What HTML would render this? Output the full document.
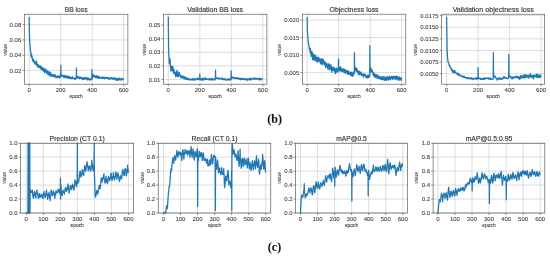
<!DOCTYPE html>
<html><head><meta charset="utf-8"><style>
html,body{margin:0;padding:0;background:#fff;width:550px;height:257px;overflow:hidden}
svg{display:block;will-change:transform;font-family:"Liberation Sans", sans-serif}
text{stroke:#3a3a3a;stroke-width:0.08px}
.ti{stroke:#333;stroke-width:0.14px;fill:#333}
</style></head><body>
<svg width="550" height="257" viewBox="0 0 550 257">
<rect width="550" height="257" fill="#fff"/>
<line x1="29.20" y1="14.2" x2="29.20" y2="84.2" stroke="#bbb" stroke-width="0.5"/>
<line x1="60.70" y1="14.2" x2="60.70" y2="84.2" stroke="#bbb" stroke-width="0.5"/>
<line x1="92.20" y1="14.2" x2="92.20" y2="84.2" stroke="#bbb" stroke-width="0.5"/>
<line x1="123.70" y1="14.2" x2="123.70" y2="84.2" stroke="#bbb" stroke-width="0.5"/>
<line x1="24.3" y1="70.40" x2="127.9" y2="70.40" stroke="#bbb" stroke-width="0.5"/>
<line x1="24.3" y1="55.17" x2="127.9" y2="55.17" stroke="#bbb" stroke-width="0.5"/>
<line x1="24.3" y1="39.93" x2="127.9" y2="39.93" stroke="#bbb" stroke-width="0.5"/>
<line x1="24.3" y1="24.70" x2="127.9" y2="24.70" stroke="#bbb" stroke-width="0.5"/>
<polyline points="29.20,17.10 29.36,31.67 29.52,35.96 29.67,40.08 29.83,43.05 29.99,45.78 30.14,47.08 30.30,48.59 30.46,51.25 30.62,50.98 30.77,52.52 30.93,54.88 31.09,56.59 31.25,56.62 31.41,56.10 31.56,53.95 31.72,57.41 31.88,57.72 32.03,56.51 32.19,58.44 32.35,57.65 32.51,60.57 32.66,60.45 32.82,60.95 32.98,60.98 33.14,59.12 33.30,61.49 33.45,60.01 33.61,60.08 33.77,61.47 33.92,62.33 34.08,61.49 34.24,62.58 34.40,62.50 34.55,61.13 34.71,62.44 34.87,61.90 35.03,63.67 35.19,62.49 35.34,64.72 35.50,63.75 35.66,63.77 35.81,63.73 35.97,62.71 36.13,61.31 36.29,63.41 36.45,61.15 36.60,62.84 36.76,64.50 36.92,63.53 37.08,64.85 37.23,66.83 37.39,66.49 37.55,65.68 37.70,66.32 37.86,65.52 38.02,64.30 38.18,65.91 38.34,65.23 38.49,67.06 38.65,66.17 38.81,65.25 38.97,67.67 39.12,66.91 39.28,66.99 39.44,66.23 39.59,67.35 39.75,66.53 39.91,67.28 40.07,65.87 40.23,67.93 40.38,68.70 40.54,68.20 40.70,68.41 40.85,67.22 41.01,68.43 41.17,66.23 41.33,69.34 41.48,68.07 41.64,67.57 41.80,69.86 41.96,69.13 42.12,68.89 42.27,70.18 42.43,67.58 42.59,69.06 42.74,68.66 42.90,69.35 43.06,69.55 43.22,68.60 43.38,70.18 43.53,71.25 43.69,68.78 43.85,68.12 44.00,68.19 44.16,69.40 44.32,71.65 44.48,69.00 44.63,72.68 44.79,71.62 44.95,70.69 45.11,71.27 45.27,70.15 45.42,71.42 45.58,70.43 45.74,69.19 45.89,69.62 46.05,72.15 46.21,72.34 46.37,71.80 46.52,72.22 46.68,73.10 46.84,73.66 47.00,70.67 47.16,70.75 47.31,71.23 47.47,72.31 47.63,71.57 47.78,72.14 47.94,73.26 48.10,74.37 48.26,75.01 48.41,74.18 48.57,72.00 48.73,71.60 48.89,72.37 49.05,73.98 49.20,74.45 49.36,73.19 49.52,75.06 49.67,75.53 49.83,73.75 49.99,74.45 50.15,73.10 50.30,72.25 50.46,73.18 50.62,72.37 50.78,74.53 50.94,75.47 51.09,76.29 51.25,75.54 51.41,74.41 51.56,76.30 51.72,75.98 51.88,76.00 52.04,74.78 52.20,75.27 52.35,74.75 52.51,74.54 52.67,75.09 52.83,76.45 52.98,75.27 53.14,76.03 53.30,75.39 53.45,75.09 53.61,76.22 53.77,74.50 53.93,75.55 54.09,75.01 54.24,77.16 54.40,76.33 54.56,75.80 54.72,75.26 54.87,76.12 55.03,75.51 55.19,74.73 55.34,74.79 55.50,75.88 55.66,76.58 55.82,76.70 55.97,77.81 56.13,77.70 56.29,77.62 56.45,77.19 56.61,76.36 56.76,76.34 56.92,76.27 57.08,76.49 57.23,75.93 57.39,77.73 57.55,76.77 57.71,76.14 57.86,76.85 58.02,77.18 58.18,76.42 58.34,76.10 58.50,76.93 58.65,76.19 58.81,76.14 58.97,77.50 59.12,77.61 59.28,78.12 59.44,77.14 59.60,77.71 59.75,76.16 59.91,76.07 60.07,77.33 60.23,76.84 60.38,76.75 60.54,76.93 60.70,77.07 60.86,65.20 61.02,76.25 61.17,76.26 61.33,75.15 61.49,74.75 61.64,75.70 61.80,74.88 61.96,75.81 62.12,75.92 62.28,76.28 62.43,75.43 62.59,76.11 62.75,76.00 62.91,75.99 63.06,76.13 63.22,75.32 63.38,76.16 63.53,76.06 63.69,75.93 63.85,77.45 64.01,77.04 64.17,77.24 64.32,76.87 64.48,76.89 64.64,75.31 64.80,75.46 64.95,76.13 65.11,76.85 65.27,77.69 65.42,77.57 65.58,77.51 65.74,77.76 65.90,76.31 66.05,77.21 66.21,75.88 66.37,76.39 66.53,77.40 66.69,77.48 66.84,77.13 67.00,77.08 67.16,77.90 67.31,76.76 67.47,76.18 67.63,76.44 67.79,75.89 67.94,77.60 68.10,76.65 68.26,78.47 68.42,77.39 68.58,77.85 68.73,78.12 68.89,77.40 69.05,77.30 69.20,76.58 69.36,76.86 69.52,76.44 69.68,77.02 69.83,78.47 69.99,77.56 70.15,77.75 70.31,78.35 70.47,78.58 70.62,77.40 70.78,77.42 70.94,77.89 71.09,78.23 71.25,78.11 71.41,77.53 71.57,77.74 71.72,78.96 71.88,78.62 72.04,78.71 72.20,78.26 72.36,77.37 72.51,76.61 72.67,78.21 72.83,78.12 72.98,78.16 73.14,78.60 73.30,78.33 73.46,78.11 73.61,78.37 73.77,78.06 73.93,78.32 74.09,78.57 74.25,78.71 74.40,78.19 74.56,78.45 74.72,79.73 74.88,79.07 75.03,79.55 75.19,78.07 75.35,78.46 75.50,78.34 75.66,78.61 75.82,78.85 75.98,77.70 76.14,78.63 76.29,78.65 76.45,68.00 76.61,78.57 76.77,77.73 76.92,78.09 77.08,76.39 77.24,76.63 77.39,76.39 77.55,77.15 77.71,77.30 77.87,77.34 78.03,77.22 78.18,77.48 78.34,77.20 78.50,78.05 78.66,77.25 78.81,77.22 78.97,76.97 79.13,77.09 79.28,78.44 79.44,77.45 79.60,78.54 79.76,77.94 79.92,78.49 80.07,76.95 80.23,78.18 80.39,77.76 80.55,77.64 80.70,78.11 80.86,78.36 81.02,78.11 81.17,78.66 81.33,77.89 81.49,77.45 81.65,78.51 81.80,78.09 81.96,78.76 82.12,77.80 82.28,78.89 82.44,79.30 82.59,79.27 82.75,79.51 82.91,77.99 83.06,77.87 83.22,77.85 83.38,77.95 83.54,77.40 83.69,77.67 83.85,77.66 84.01,79.44 84.17,78.67 84.33,79.34 84.48,78.85 84.64,79.16 84.80,79.08 84.95,78.16 85.11,78.23 85.27,77.62 85.43,78.08 85.58,78.10 85.74,78.39 85.90,78.55 86.06,78.87 86.22,78.35 86.37,78.23 86.53,78.98 86.69,77.47 86.84,77.70 87.00,78.02 87.16,79.64 87.32,79.48 87.47,79.87 87.63,79.96 87.79,78.38 87.95,79.27 88.11,77.81 88.26,77.97 88.42,78.61 88.58,79.18 88.73,78.61 88.89,79.37 89.05,79.00 89.21,79.16 89.36,80.07 89.52,79.69 89.68,78.89 89.84,78.97 90.00,79.35 90.15,78.56 90.31,79.83 90.47,79.11 90.62,78.80 90.78,79.34 90.94,79.35 91.10,79.43 91.25,79.30 91.41,78.15 91.57,79.31 91.73,79.83 91.89,69.60 92.04,78.99 92.20,77.74 92.36,77.37 92.52,75.38 92.67,75.78 92.83,74.29 92.99,74.93 93.14,74.42 93.30,75.35 93.46,76.14 93.62,76.34 93.78,76.60 93.93,77.13 94.09,75.59 94.25,75.55 94.41,76.24 94.56,76.85 94.72,76.68 94.88,76.30 95.03,76.22 95.19,77.04 95.35,77.34 95.51,77.06 95.67,77.04 95.82,76.20 95.98,76.94 96.14,75.69 96.30,75.64 96.45,76.30 96.61,77.53 96.77,76.49 96.92,76.94 97.08,77.87 97.24,76.76 97.40,77.42 97.56,75.95 97.71,77.19 97.87,76.34 98.03,76.47 98.19,77.62 98.34,78.25 98.50,78.42 98.66,77.92 98.81,78.02 98.97,77.97 99.13,77.09 99.29,76.26 99.45,77.81 99.60,77.46 99.76,77.69 99.92,78.37 100.08,77.97 100.23,77.58 100.39,77.61 100.55,77.79 100.70,77.67 100.86,77.65 101.02,77.68 101.18,78.15 101.34,77.91 101.49,78.34 101.65,78.36 101.81,77.38 101.97,77.20 102.12,78.20 102.28,77.14 102.44,77.95 102.59,77.68 102.75,77.19 102.91,78.35 103.07,78.41 103.23,78.07 103.38,78.16 103.54,78.03 103.70,77.88 103.86,78.26 104.01,77.17 104.17,77.78 104.33,78.21 104.48,78.92 104.64,77.73 104.80,77.83 104.96,77.89 105.12,77.81 105.27,77.59 105.43,77.32 105.59,77.41 105.75,77.52 105.90,78.02 106.06,78.38 106.22,78.00 106.38,77.77 106.53,77.60 106.69,77.82 106.85,77.61 107.01,78.06 107.16,78.63 107.32,78.52 107.48,77.83 107.64,77.70 107.79,77.89 107.95,78.62 108.11,78.38 108.27,78.76 108.42,77.67 108.58,77.81 108.74,78.37 108.90,78.30 109.05,78.33 109.21,79.07 109.37,77.92 109.53,78.17 109.68,78.70 109.84,78.63 110.00,79.23 110.16,79.16 110.31,78.47 110.47,78.83 110.63,78.82 110.78,78.01 110.94,78.85 111.10,78.47 111.26,78.39 111.42,77.91 111.57,77.52 111.73,78.70 111.89,78.33 112.05,78.60 112.20,78.07 112.36,78.49 112.52,78.31 112.67,79.20 112.83,79.40 112.99,79.13 113.15,79.20 113.31,77.97 113.46,78.49 113.62,77.76 113.78,78.59 113.94,78.09 114.09,78.95 114.25,79.13 114.41,78.66 114.56,78.49 114.72,78.90 114.88,78.37 115.04,78.09 115.20,77.91 115.35,78.47 115.51,79.65 115.67,80.14 115.83,79.48 115.98,80.07 116.14,79.88 116.30,78.66 116.45,78.55 116.61,79.02 116.77,78.68 116.93,79.97 117.09,79.32 117.24,80.16 117.40,80.40 117.56,79.41 117.72,80.21 117.87,79.15 118.03,78.59 118.19,78.28 118.34,79.01 118.50,79.39 118.66,78.92 118.82,79.90 118.98,79.11 119.13,79.81 119.29,78.35 119.45,78.51 119.61,78.16 119.76,78.41 119.92,78.54 120.08,78.89 120.23,79.88 120.39,79.74 120.55,80.06 120.71,79.37 120.87,79.66 121.02,78.83 121.18,78.85 121.34,78.75 121.50,78.62 121.65,78.68 121.81,78.74 121.97,80.03 122.12,80.10 122.28,79.96 122.44,78.88 122.60,79.02 122.76,79.52 122.91,78.35 123.07,79.34 123.23,79.04 123.39,78.67 123.54,79.03" fill="none" stroke="#1f77b4" stroke-width="1.25" stroke-linejoin="round"/>
<rect x="24.3" y="14.2" width="103.60" height="70.00" fill="none" stroke="#444" stroke-width="0.6"/>
<line x1="29.20" y1="84.2" x2="29.20" y2="86.20" stroke="#444" stroke-width="0.6"/>
<text x="29.20" y="91.90" font-size="5.88" text-anchor="middle" fill="#3a3a3a" textLength="3.34" lengthAdjust="spacingAndGlyphs" >0</text>
<line x1="60.70" y1="84.2" x2="60.70" y2="86.20" stroke="#444" stroke-width="0.6"/>
<text x="60.70" y="91.90" font-size="5.88" text-anchor="middle" fill="#3a3a3a" textLength="10.02" lengthAdjust="spacingAndGlyphs" >200</text>
<line x1="92.20" y1="84.2" x2="92.20" y2="86.20" stroke="#444" stroke-width="0.6"/>
<text x="92.20" y="91.90" font-size="5.88" text-anchor="middle" fill="#3a3a3a" textLength="10.02" lengthAdjust="spacingAndGlyphs" >400</text>
<line x1="123.70" y1="84.2" x2="123.70" y2="86.20" stroke="#444" stroke-width="0.6"/>
<text x="123.70" y="91.90" font-size="5.88" text-anchor="middle" fill="#3a3a3a" textLength="10.02" lengthAdjust="spacingAndGlyphs" >600</text>
<line x1="22.30" y1="70.40" x2="24.3" y2="70.40" stroke="#444" stroke-width="0.6"/>
<text x="21.30" y="72.65" font-size="5.88" text-anchor="end" fill="#3a3a3a" textLength="11.69" lengthAdjust="spacingAndGlyphs" >0.02</text>
<line x1="22.30" y1="55.17" x2="24.3" y2="55.17" stroke="#444" stroke-width="0.6"/>
<text x="21.30" y="57.42" font-size="5.88" text-anchor="end" fill="#3a3a3a" textLength="11.69" lengthAdjust="spacingAndGlyphs" >0.04</text>
<line x1="22.30" y1="39.93" x2="24.3" y2="39.93" stroke="#444" stroke-width="0.6"/>
<text x="21.30" y="42.18" font-size="5.88" text-anchor="end" fill="#3a3a3a" textLength="11.69" lengthAdjust="spacingAndGlyphs" >0.06</text>
<line x1="22.30" y1="24.70" x2="24.3" y2="24.70" stroke="#444" stroke-width="0.6"/>
<text x="21.30" y="26.95" font-size="5.88" text-anchor="end" fill="#3a3a3a" textLength="11.69" lengthAdjust="spacingAndGlyphs" >0.08</text>
<text x="76.10" y="11.90" font-size="7.24" text-anchor="middle" fill="#3a3a3a" textLength="22.82" lengthAdjust="spacingAndGlyphs" class="ti">BB loss</text>
<text x="76.10" y="98.10" font-size="5.13" text-anchor="middle" fill="#3a3a3a" textLength="13.25" lengthAdjust="spacingAndGlyphs" >epoch</text>
<text x="0" y="0" font-size="5.13" text-anchor="middle" fill="#444" textLength="11.88" lengthAdjust="spacingAndGlyphs" transform="translate(6.90,49.80) rotate(-90)">value</text>
<line x1="168.30" y1="14.2" x2="168.30" y2="84.2" stroke="#bbb" stroke-width="0.5"/>
<line x1="199.80" y1="14.2" x2="199.80" y2="84.2" stroke="#bbb" stroke-width="0.5"/>
<line x1="231.30" y1="14.2" x2="231.30" y2="84.2" stroke="#bbb" stroke-width="0.5"/>
<line x1="262.80" y1="14.2" x2="262.80" y2="84.2" stroke="#bbb" stroke-width="0.5"/>
<line x1="163.4" y1="79.40" x2="266.9" y2="79.40" stroke="#bbb" stroke-width="0.5"/>
<line x1="163.4" y1="65.80" x2="266.9" y2="65.80" stroke="#bbb" stroke-width="0.5"/>
<line x1="163.4" y1="52.20" x2="266.9" y2="52.20" stroke="#bbb" stroke-width="0.5"/>
<line x1="163.4" y1="38.60" x2="266.9" y2="38.60" stroke="#bbb" stroke-width="0.5"/>
<line x1="163.4" y1="25.00" x2="266.9" y2="25.00" stroke="#bbb" stroke-width="0.5"/>
<polyline points="168.30,16.80 168.46,34.23 168.62,50.38 168.77,54.31 168.93,56.12 169.09,58.55 169.25,63.49 169.40,60.86 169.56,63.88 169.72,61.33 169.88,58.77 170.03,58.90 170.19,61.21 170.35,64.90 170.51,67.20 170.66,67.09 170.82,70.81 170.98,70.12 171.14,69.43 171.29,67.54 171.45,66.14 171.61,67.96 171.77,69.09 171.92,68.66 172.08,70.97 172.24,69.14 172.40,66.51 172.55,66.35 172.71,69.20 172.87,67.15 173.03,67.19 173.18,69.92 173.34,73.04 173.50,71.05 173.66,71.01 173.81,69.91 173.97,69.64 174.13,71.79 174.29,72.25 174.44,72.31 174.60,74.00 174.76,73.89 174.92,72.47 175.07,72.65 175.23,72.39 175.39,72.92 175.55,75.80 175.70,75.96 175.86,76.85 176.02,75.11 176.18,74.47 176.33,75.79 176.49,72.65 176.65,74.51 176.81,74.45 176.96,70.10 177.12,76.35 177.28,74.12 177.44,73.37 177.59,72.57 177.75,71.50 177.91,72.50 178.06,73.38 178.22,75.14 178.38,76.68 178.54,75.36 178.70,73.81 178.85,74.01 179.01,73.17 179.17,74.09 179.33,72.60 179.48,74.89 179.64,75.64 179.80,74.84 179.96,75.02 180.11,74.64 180.27,75.83 180.43,75.68 180.59,75.79 180.74,77.95 180.90,76.62 181.06,77.60 181.22,77.32 181.37,76.70 181.53,75.89 181.69,76.37 181.84,76.65 182.00,77.64 182.16,76.38 182.32,77.09 182.48,77.21 182.63,76.64 182.79,75.84 182.95,76.93 183.11,77.01 183.26,78.03 183.42,78.58 183.58,77.68 183.74,76.54 183.89,77.00 184.05,76.44 184.21,77.41 184.37,78.12 184.52,77.91 184.68,78.84 184.84,78.44 185.00,77.97 185.15,77.25 185.31,77.45 185.47,77.32 185.62,78.55 185.78,78.62 185.94,79.41 186.10,78.69 186.26,77.61 186.41,78.10 186.57,77.84 186.73,78.58 186.89,78.25 187.04,78.75 187.20,79.54 187.36,78.99 187.52,78.69 187.67,78.53 187.83,79.38 187.99,78.70 188.15,78.84 188.30,79.25 188.46,79.62 188.62,79.70 188.78,79.32 188.93,79.01 189.09,78.54 189.25,78.85 189.41,78.92 189.56,78.97 189.72,80.14 189.88,79.43 190.04,79.72 190.19,79.31 190.35,79.28 190.51,79.41 190.67,79.24 190.82,79.70 190.98,79.92 191.14,79.89 191.30,79.65 191.45,79.64 191.61,79.31 191.77,79.36 191.93,79.00 192.08,79.48 192.24,80.13 192.40,79.49 192.56,79.38 192.71,78.84 192.87,78.44 193.03,79.43 193.19,79.32 193.34,79.91 193.50,79.98 193.66,79.59 193.81,78.93 193.97,79.33 194.13,78.73 194.29,78.78 194.45,79.86 194.60,79.95 194.76,80.14 194.92,79.79 195.08,79.57 195.23,79.48 195.39,79.21 195.55,79.31 195.71,79.60 195.86,78.93 196.02,79.89 196.18,79.29 196.34,79.45 196.49,79.31 196.65,78.58 196.81,79.15 196.97,79.30 197.12,79.08 197.28,79.28 197.44,79.13 197.60,78.23 197.75,78.36 197.91,78.21 198.07,78.38 198.23,78.43 198.38,79.06 198.54,79.87 198.70,79.67 198.86,79.16 199.01,78.84 199.17,78.89 199.33,79.08 199.49,79.08 199.64,79.34 199.80,74.20 199.96,79.66 200.12,78.66 200.27,79.35 200.43,78.98 200.59,79.45 200.75,79.37 200.90,79.70 201.06,80.22 201.22,78.83 201.38,79.73 201.53,79.14 201.69,78.39 201.85,78.44 202.00,79.44 202.16,79.36 202.32,80.12 202.48,79.53 202.64,79.06 202.79,78.95 202.95,78.35 203.11,78.85 203.27,79.23 203.42,79.46 203.58,79.93 203.74,79.61 203.90,78.74 204.05,78.69 204.21,78.41 204.37,78.65 204.53,78.66 204.68,79.22 204.84,79.76 205.00,79.27 205.16,79.16 205.31,78.18 205.47,77.77 205.63,78.06 205.79,78.46 205.94,78.73 206.10,78.76 206.26,79.24 206.42,79.32 206.57,79.28 206.73,78.65 206.89,79.02 207.05,79.67 207.20,79.31 207.36,79.57 207.52,79.22 207.68,79.28 207.83,79.05 207.99,79.17 208.15,79.06 208.31,79.39 208.46,79.33 208.62,79.87 208.78,79.47 208.94,79.24 209.09,78.66 209.25,78.97 209.41,78.61 209.56,79.16 209.72,78.99 209.88,79.60 210.04,79.78 210.20,79.01 210.35,79.16 210.51,78.90 210.67,79.28 210.83,79.62 210.98,79.65 211.14,80.06 211.30,79.52 211.46,79.02 211.61,78.48 211.77,78.59 211.93,78.48 212.09,79.15 212.24,79.44 212.40,79.37 212.56,79.78 212.72,79.19 212.87,79.45 213.03,79.55 213.19,79.10 213.35,79.14 213.50,79.22 213.66,80.12 213.82,79.31 213.98,78.94 214.13,79.32 214.29,78.93 214.45,79.24 214.61,79.28 214.76,79.24 214.92,79.89 215.08,79.59 215.24,79.16 215.39,78.79 215.55,70.20 215.71,78.64 215.87,78.50 216.02,78.37 216.18,78.29 216.34,77.88 216.50,78.04 216.65,77.85 216.81,77.76 216.97,77.84 217.12,78.16 217.28,78.61 217.44,78.64 217.60,78.48 217.75,78.64 217.91,77.97 218.07,78.07 218.23,78.47 218.39,78.53 218.54,78.76 218.70,78.57 218.86,78.62 219.02,78.39 219.17,78.41 219.33,78.17 219.49,78.31 219.65,79.02 219.80,78.91 219.96,78.94 220.12,78.67 220.28,78.62 220.43,78.29 220.59,78.65 220.75,78.65 220.91,78.70 221.06,78.88 221.22,79.04 221.38,78.92 221.54,78.99 221.69,78.54 221.85,77.99 222.01,78.41 222.17,78.27 222.32,79.30 222.48,79.42 222.64,79.64 222.80,79.08 222.95,78.83 223.11,78.83 223.27,78.82 223.43,79.52 223.58,79.45 223.74,79.68 223.90,79.39 224.06,78.94 224.21,78.87 224.37,78.52 224.53,79.30 224.69,79.26 224.84,79.73 225.00,79.91 225.16,79.71 225.31,79.50 225.47,79.68 225.63,79.16 225.79,79.54 225.95,79.39 226.10,79.53 226.26,79.30 226.42,79.89 226.58,80.10 226.73,79.43 226.89,79.73 227.05,79.75 227.21,79.54 227.36,80.07 227.52,79.83 227.68,79.66 227.84,79.72 227.99,79.14 228.15,78.49 228.31,79.47 228.47,79.17 228.62,79.73 228.78,80.01 228.94,79.87 229.10,79.50 229.25,79.12 229.41,79.80 229.57,79.25 229.73,79.41 229.88,79.17 230.04,79.96 230.20,80.07 230.36,79.91 230.51,80.06 230.67,79.56 230.83,79.55 230.99,79.42 231.14,70.90 231.30,79.34 231.46,78.64 231.62,77.64 231.77,77.55 231.93,77.66 232.09,77.34 232.25,77.64 232.40,77.12 232.56,78.24 232.72,77.86 232.88,77.99 233.03,77.56 233.19,77.15 233.35,77.23 233.50,77.90 233.66,77.98 233.82,77.94 233.98,78.08 234.13,77.85 234.29,78.10 234.45,77.73 234.61,77.64 234.77,78.03 234.92,78.02 235.08,78.64 235.24,78.00 235.40,77.63 235.55,77.79 235.71,77.58 235.87,77.92 236.03,78.12 236.18,78.01 236.34,78.46 236.50,78.38 236.66,78.04 236.81,78.13 236.97,78.26 237.13,77.99 237.29,78.29 237.44,78.61 237.60,78.88 237.76,78.69 237.92,77.89 238.07,77.96 238.23,77.70 238.39,78.29 238.55,78.15 238.70,78.38 238.86,78.58 239.02,78.96 239.18,79.01 239.33,78.37 239.49,78.52 239.65,78.94 239.81,79.28 239.96,79.26 240.12,79.84 240.28,79.30 240.44,78.71 240.59,78.64 240.75,78.29 240.91,78.27 241.06,78.93 241.22,79.63 241.38,79.07 241.54,79.35 241.69,79.14 241.85,78.65 242.01,78.45 242.17,78.55 242.33,79.19 242.48,78.85 242.64,79.29 242.80,78.67 242.96,79.07 243.11,78.91 243.27,78.23 243.43,78.73 243.59,79.37 243.74,79.42 243.90,79.54 244.06,78.99 244.22,79.47 244.37,79.64 244.53,78.81 244.69,79.26 244.85,79.49 245.00,79.59 245.16,79.87 245.32,79.53 245.48,78.95 245.63,79.45 245.79,79.16 245.95,78.83 246.11,79.46 246.26,79.07 246.42,79.48 246.58,79.68 246.74,78.96 246.89,78.78 247.05,79.04 247.21,78.82 247.37,80.11 247.52,80.23 247.68,80.47 247.84,80.13 248.00,79.30 248.15,78.85 248.31,78.86 248.47,79.06 248.62,79.04 248.78,79.17 248.94,79.23 249.10,79.56 249.25,78.69 249.41,78.70 249.57,78.63 249.73,78.63 249.88,78.93 250.04,79.26 250.20,80.01 250.36,79.85 250.52,79.12 250.67,78.26 250.83,78.15 250.99,78.61 251.15,78.91 251.30,79.21 251.46,79.77 251.62,78.88 251.78,78.94 251.93,78.86 252.09,78.71 252.25,78.74 252.41,78.80 252.56,78.90 252.72,78.90 252.88,78.80 253.04,78.44 253.19,78.02 253.35,78.21 253.51,78.48 253.67,78.37 253.82,78.90 253.98,79.32 254.14,78.89 254.30,78.66 254.45,78.56 254.61,77.83 254.77,78.06 254.93,78.72 255.08,78.83 255.24,79.28 255.40,78.68 255.56,78.95 255.71,78.82 255.87,78.92 256.03,78.37 256.19,78.63 256.34,78.94 256.50,79.08 256.66,78.63 256.81,78.61 256.97,78.29 257.13,79.06 257.29,78.66 257.44,78.86 257.60,78.90 257.76,79.25 257.92,79.24 258.08,78.75 258.23,78.63 258.39,78.97 258.55,79.04 258.71,79.25 258.86,79.46 259.02,79.94 259.18,79.32 259.34,79.13 259.49,78.46 259.65,78.01 259.81,78.33 259.97,78.42 260.12,78.98 260.28,79.81 260.44,78.92 260.60,78.56 260.75,79.11 260.91,78.74 261.07,79.47 261.23,79.28 261.38,79.63 261.54,79.42 261.70,78.99 261.86,79.12 262.01,79.11 262.17,78.50 262.33,78.54 262.49,79.01 262.64,79.26" fill="none" stroke="#1f77b4" stroke-width="1.25" stroke-linejoin="round"/>
<rect x="163.4" y="14.2" width="103.50" height="70.00" fill="none" stroke="#444" stroke-width="0.6"/>
<line x1="168.30" y1="84.2" x2="168.30" y2="86.20" stroke="#444" stroke-width="0.6"/>
<text x="168.30" y="91.90" font-size="5.88" text-anchor="middle" fill="#3a3a3a" textLength="3.34" lengthAdjust="spacingAndGlyphs" >0</text>
<line x1="199.80" y1="84.2" x2="199.80" y2="86.20" stroke="#444" stroke-width="0.6"/>
<text x="199.80" y="91.90" font-size="5.88" text-anchor="middle" fill="#3a3a3a" textLength="10.02" lengthAdjust="spacingAndGlyphs" >200</text>
<line x1="231.30" y1="84.2" x2="231.30" y2="86.20" stroke="#444" stroke-width="0.6"/>
<text x="231.30" y="91.90" font-size="5.88" text-anchor="middle" fill="#3a3a3a" textLength="10.02" lengthAdjust="spacingAndGlyphs" >400</text>
<line x1="262.80" y1="84.2" x2="262.80" y2="86.20" stroke="#444" stroke-width="0.6"/>
<text x="262.80" y="91.90" font-size="5.88" text-anchor="middle" fill="#3a3a3a" textLength="10.02" lengthAdjust="spacingAndGlyphs" >600</text>
<line x1="161.40" y1="79.40" x2="163.4" y2="79.40" stroke="#444" stroke-width="0.6"/>
<text x="160.40" y="81.65" font-size="5.88" text-anchor="end" fill="#3a3a3a" textLength="11.69" lengthAdjust="spacingAndGlyphs" >0.01</text>
<line x1="161.40" y1="65.80" x2="163.4" y2="65.80" stroke="#444" stroke-width="0.6"/>
<text x="160.40" y="68.05" font-size="5.88" text-anchor="end" fill="#3a3a3a" textLength="11.69" lengthAdjust="spacingAndGlyphs" >0.02</text>
<line x1="161.40" y1="52.20" x2="163.4" y2="52.20" stroke="#444" stroke-width="0.6"/>
<text x="160.40" y="54.45" font-size="5.88" text-anchor="end" fill="#3a3a3a" textLength="11.69" lengthAdjust="spacingAndGlyphs" >0.03</text>
<line x1="161.40" y1="38.60" x2="163.4" y2="38.60" stroke="#444" stroke-width="0.6"/>
<text x="160.40" y="40.85" font-size="5.88" text-anchor="end" fill="#3a3a3a" textLength="11.69" lengthAdjust="spacingAndGlyphs" >0.04</text>
<line x1="161.40" y1="25.00" x2="163.4" y2="25.00" stroke="#444" stroke-width="0.6"/>
<text x="160.40" y="27.25" font-size="5.88" text-anchor="end" fill="#3a3a3a" textLength="11.69" lengthAdjust="spacingAndGlyphs" >0.05</text>
<text x="215.15" y="11.90" font-size="7.24" text-anchor="middle" fill="#3a3a3a" textLength="55.93" lengthAdjust="spacingAndGlyphs" class="ti">Validation BB loss</text>
<text x="215.15" y="98.10" font-size="5.13" text-anchor="middle" fill="#3a3a3a" textLength="13.25" lengthAdjust="spacingAndGlyphs" >epoch</text>
<text x="0" y="0" font-size="5.13" text-anchor="middle" fill="#444" textLength="11.88" lengthAdjust="spacingAndGlyphs" transform="translate(145.70,49.80) rotate(-90)">value</text>
<line x1="307.20" y1="14.2" x2="307.20" y2="84.2" stroke="#bbb" stroke-width="0.5"/>
<line x1="338.70" y1="14.2" x2="338.70" y2="84.2" stroke="#bbb" stroke-width="0.5"/>
<line x1="370.20" y1="14.2" x2="370.20" y2="84.2" stroke="#bbb" stroke-width="0.5"/>
<line x1="401.70" y1="14.2" x2="401.70" y2="84.2" stroke="#bbb" stroke-width="0.5"/>
<line x1="302.3" y1="72.60" x2="405.8" y2="72.60" stroke="#bbb" stroke-width="0.5"/>
<line x1="302.3" y1="55.10" x2="405.8" y2="55.10" stroke="#bbb" stroke-width="0.5"/>
<line x1="302.3" y1="37.60" x2="405.8" y2="37.60" stroke="#bbb" stroke-width="0.5"/>
<line x1="302.3" y1="20.10" x2="405.8" y2="20.10" stroke="#bbb" stroke-width="0.5"/>
<polyline points="307.20,17.00 307.36,28.73 307.51,33.36 307.67,35.36 307.83,37.37 307.99,39.37 308.14,41.09 308.30,42.10 308.46,42.93 308.62,43.56 308.77,45.12 308.93,45.42 309.09,47.33 309.25,46.95 309.40,49.81 309.56,48.19 309.72,49.32 309.88,49.75 310.03,49.04 310.19,53.28 310.35,48.35 310.51,53.42 310.66,51.28 310.82,50.80 310.98,52.18 311.14,55.64 311.30,56.57 311.45,55.71 311.61,52.61 311.77,53.79 311.93,51.38 312.08,53.91 312.24,53.63 312.40,52.95 312.56,55.22 312.71,59.77 312.87,58.06 313.03,56.37 313.19,55.27 313.34,59.87 313.50,54.78 313.66,54.19 313.81,54.37 313.97,58.52 314.13,59.90 314.29,55.15 314.44,58.69 314.60,59.07 314.76,58.60 314.92,55.32 315.07,59.30 315.23,57.58 315.39,60.44 315.55,60.68 315.70,58.38 315.86,55.63 316.02,57.20 316.18,59.42 316.33,61.22 316.49,58.90 316.65,58.91 316.81,60.23 316.96,61.56 317.12,57.49 317.28,59.72 317.44,59.69 317.59,58.71 317.75,58.27 317.91,61.99 318.07,61.46 318.22,57.80 318.38,57.13 318.54,58.89 318.70,59.69 318.85,57.98 319.01,58.84 319.17,60.68 319.33,60.85 319.49,61.14 319.64,61.48 319.80,58.97 319.96,60.57 320.12,62.16 320.27,61.83 320.43,62.05 320.59,63.23 320.75,63.83 320.90,63.38 321.06,59.55 321.22,58.50 321.38,59.31 321.53,62.61 321.69,60.11 321.85,62.91 322.00,62.35 322.16,64.99 322.32,60.24 322.48,64.03 322.63,59.18 322.79,62.29 322.95,61.38 323.11,59.37 323.26,59.17 323.42,60.62 323.58,61.91 323.74,60.76 323.89,63.12 324.05,61.82 324.21,64.92 324.37,64.89 324.52,63.75 324.68,64.10 324.84,64.28 325.00,63.75 325.15,61.54 325.31,62.20 325.47,62.90 325.63,67.52 325.78,65.11 325.94,66.72 326.10,64.28 326.26,65.85 326.41,65.15 326.57,63.58 326.73,63.45 326.89,63.34 327.04,65.94 327.20,66.53 327.36,67.78 327.52,65.33 327.68,66.92 327.83,68.65 327.99,68.27 328.15,69.47 328.31,64.25 328.46,67.57 328.62,63.91 328.78,65.59 328.94,64.42 329.09,65.23 329.25,67.48 329.41,64.16 329.56,64.41 329.72,69.87 329.88,67.81 330.04,67.14 330.19,65.45 330.35,67.16 330.51,67.83 330.67,68.86 330.82,65.81 330.98,64.90 331.14,68.94 331.30,66.96 331.45,69.78 331.61,70.81 331.77,72.25 331.93,67.55 332.08,67.75 332.24,68.15 332.40,70.23 332.56,67.81 332.71,67.50 332.87,70.32 333.03,66.93 333.19,67.41 333.34,67.86 333.50,70.71 333.66,69.60 333.82,70.14 333.97,70.59 334.13,70.50 334.29,69.46 334.45,67.79 334.61,71.23 334.76,71.84 334.92,70.54 335.08,69.38 335.24,73.60 335.39,69.15 335.55,73.65 335.71,72.06 335.87,69.85 336.02,71.45 336.18,71.03 336.34,67.94 336.50,70.11 336.65,71.88 336.81,71.32 336.97,68.93 337.12,69.52 337.28,72.06 337.44,68.97 337.60,71.94 337.75,70.98 337.91,70.09 338.07,70.06 338.23,70.13 338.38,68.12 338.54,59.00 338.70,69.43 338.86,70.39 339.01,67.98 339.17,71.09 339.33,70.24 339.49,68.00 339.64,70.17 339.80,69.93 339.96,68.23 340.12,67.43 340.27,69.36 340.43,66.61 340.59,70.47 340.75,70.84 340.90,67.87 341.06,71.41 341.22,69.27 341.38,71.15 341.53,71.25 341.69,68.60 341.85,69.12 342.01,71.32 342.16,70.58 342.32,70.56 342.48,69.09 342.64,71.23 342.79,68.93 342.95,70.04 343.11,70.27 343.27,69.39 343.43,70.75 343.58,68.96 343.74,72.33 343.90,70.32 344.06,71.21 344.21,70.65 344.37,69.48 344.53,71.04 344.69,69.73 344.84,71.15 345.00,72.74 345.16,70.88 345.31,73.44 345.47,72.22 345.63,69.79 345.79,71.11 345.94,72.67 346.10,70.55 346.26,70.30 346.42,71.15 346.57,72.18 346.73,72.11 346.89,71.81 347.05,72.52 347.20,72.47 347.36,73.15 347.52,74.14 347.68,72.68 347.83,70.51 347.99,71.01 348.15,71.80 348.31,74.40 348.46,71.39 348.62,73.79 348.78,73.12 348.94,72.49 349.09,73.92 349.25,74.30 349.41,74.31 349.57,72.19 349.72,72.01 349.88,72.17 350.04,72.45 350.20,72.59 350.36,73.89 350.51,73.29 350.67,74.57 350.83,75.76 350.99,74.99 351.14,72.30 351.30,75.33 351.46,73.17 351.62,72.29 351.77,72.75 351.93,72.27 352.09,73.31 352.25,74.21 352.40,73.08 352.56,76.45 352.72,74.26 352.88,74.45 353.03,73.42 353.19,75.36 353.35,74.96 353.50,73.37 353.66,71.82 353.82,74.45 353.98,73.48 354.13,72.74 354.29,73.07 354.45,52.70 354.61,71.75 354.76,68.52 354.92,70.33 355.08,67.57 355.24,69.14 355.39,67.53 355.55,69.74 355.71,69.93 355.87,67.41 356.02,70.94 356.18,70.60 356.34,70.66 356.50,68.68 356.65,71.11 356.81,71.27 356.97,72.08 357.13,70.36 357.28,69.16 357.44,71.99 357.60,71.03 357.76,71.27 357.91,72.90 358.07,70.98 358.23,71.33 358.39,74.73 358.54,74.31 358.70,74.01 358.86,72.82 359.02,72.44 359.18,71.66 359.33,71.37 359.49,74.39 359.65,72.67 359.81,74.72 359.96,72.46 360.12,73.38 360.28,73.88 360.44,73.52 360.59,72.74 360.75,74.64 360.91,71.91 361.06,73.70 361.22,73.85 361.38,74.02 361.54,73.11 361.69,75.13 361.85,75.70 362.01,75.47 362.17,75.48 362.32,75.31 362.48,74.86 362.64,75.30 362.80,75.00 362.95,74.08 363.11,76.29 363.27,74.65 363.43,73.96 363.58,76.03 363.74,77.05 363.90,74.54 364.06,74.11 364.21,75.03 364.37,74.73 364.53,74.18 364.69,74.49 364.84,74.89 365.00,74.37 365.16,75.69 365.32,75.46 365.47,75.62 365.63,74.80 365.79,77.33 365.95,76.72 366.11,76.37 366.26,75.37 366.42,77.72 366.58,76.64 366.74,76.88 366.89,76.13 367.05,76.58 367.21,77.08 367.37,75.84 367.52,75.99 367.68,78.06 367.84,76.26 368.00,75.05 368.15,76.42 368.31,77.65 368.47,75.86 368.62,76.14 368.78,77.58 368.94,75.12 369.10,75.47 369.25,75.10 369.41,76.54 369.57,75.95 369.73,76.34 369.88,45.50 370.04,71.81 370.20,72.68 370.36,71.39 370.51,70.53 370.67,67.90 370.83,67.93 370.99,68.47 371.14,70.18 371.30,71.30 371.46,69.99 371.62,69.79 371.77,70.24 371.93,70.42 372.09,72.47 372.25,72.16 372.40,70.42 372.56,72.70 372.72,73.31 372.88,73.18 373.03,74.53 373.19,72.64 373.35,75.31 373.51,73.07 373.66,75.91 373.82,74.78 373.98,75.88 374.14,73.41 374.29,73.61 374.45,76.29 374.61,73.98 374.77,75.15 374.92,77.12 375.08,77.72 375.24,75.52 375.40,75.08 375.56,76.91 375.71,75.29 375.87,75.38 376.03,74.35 376.19,75.25 376.34,77.10 376.50,76.49 376.66,74.79 376.81,75.17 376.97,78.29 377.13,77.60 377.29,75.88 377.44,77.34 377.60,77.86 377.76,77.85 377.92,77.12 378.07,75.22 378.23,77.93 378.39,77.50 378.55,78.24 378.70,77.21 378.86,78.80 379.02,78.77 379.18,77.12 379.33,76.50 379.49,78.16 379.65,76.71 379.81,77.20 379.96,76.80 380.12,77.54 380.28,77.56 380.44,78.94 380.59,78.76 380.75,77.38 380.91,79.23 381.07,79.49 381.23,78.34 381.38,76.79 381.54,79.36 381.70,79.02 381.86,76.62 382.01,77.49 382.17,79.30 382.33,78.98 382.49,77.38 382.64,78.19 382.80,77.27 382.96,79.99 383.12,79.37 383.27,77.25 383.43,77.61 383.59,78.51 383.75,77.51 383.90,76.41 384.06,79.20 384.22,79.37 384.38,77.29 384.53,80.57 384.69,79.58 384.85,79.63 385.00,79.64 385.16,80.04 385.32,78.35 385.48,77.17 385.63,77.37 385.79,79.21 385.95,78.57 386.11,78.48 386.26,78.69 386.42,78.68 386.58,80.43 386.74,80.29 386.89,77.97 387.05,76.59 387.21,76.94 387.37,77.05 387.52,77.41 387.68,78.49 387.84,78.62 388.00,78.13 388.15,79.85 388.31,77.17 388.47,78.40 388.63,79.59 388.78,78.95 388.94,78.29 389.10,78.62 389.26,76.05 389.41,78.30 389.57,77.78 389.73,79.09 389.89,76.91 390.04,77.83 390.20,79.97 390.36,77.84 390.52,78.90 390.67,79.50 390.83,77.97 390.99,77.66 391.15,77.46 391.31,76.32 391.46,77.43 391.62,78.34 391.78,77.79 391.94,77.39 392.09,77.85 392.25,77.01 392.41,76.46 392.56,79.42 392.72,77.31 392.88,78.32 393.04,77.94 393.19,76.39 393.35,76.70 393.51,78.08 393.67,77.75 393.82,78.49 393.98,78.42 394.14,78.25 394.30,78.65 394.45,77.88 394.61,76.38 394.77,77.84 394.93,79.13 395.08,78.27 395.24,76.77 395.40,77.73 395.56,76.47 395.71,78.57 395.87,77.67 396.03,78.52 396.19,79.66 396.34,78.23 396.50,78.70 396.66,75.79 396.82,76.68 396.98,77.41 397.13,76.41 397.29,77.97 397.45,77.60 397.61,78.37 397.76,77.39 397.92,79.89 398.08,78.15 398.24,78.23 398.39,77.49 398.55,77.63 398.71,77.11 398.87,79.83 399.02,79.34 399.18,79.28 399.34,77.14 399.50,77.84 399.65,80.25 399.81,80.30 399.97,77.80 400.12,79.16 400.28,79.38 400.44,78.45 400.60,78.11 400.75,77.81 400.91,79.61 401.07,78.53 401.23,80.10 401.38,77.94 401.54,79.89" fill="none" stroke="#1f77b4" stroke-width="1.25" stroke-linejoin="round"/>
<rect x="302.3" y="14.2" width="103.50" height="70.00" fill="none" stroke="#444" stroke-width="0.6"/>
<line x1="307.20" y1="84.2" x2="307.20" y2="86.20" stroke="#444" stroke-width="0.6"/>
<text x="307.20" y="91.90" font-size="5.88" text-anchor="middle" fill="#3a3a3a" textLength="3.34" lengthAdjust="spacingAndGlyphs" >0</text>
<line x1="338.70" y1="84.2" x2="338.70" y2="86.20" stroke="#444" stroke-width="0.6"/>
<text x="338.70" y="91.90" font-size="5.88" text-anchor="middle" fill="#3a3a3a" textLength="10.02" lengthAdjust="spacingAndGlyphs" >200</text>
<line x1="370.20" y1="84.2" x2="370.20" y2="86.20" stroke="#444" stroke-width="0.6"/>
<text x="370.20" y="91.90" font-size="5.88" text-anchor="middle" fill="#3a3a3a" textLength="10.02" lengthAdjust="spacingAndGlyphs" >400</text>
<line x1="401.70" y1="84.2" x2="401.70" y2="86.20" stroke="#444" stroke-width="0.6"/>
<text x="401.70" y="91.90" font-size="5.88" text-anchor="middle" fill="#3a3a3a" textLength="10.02" lengthAdjust="spacingAndGlyphs" >600</text>
<line x1="300.30" y1="72.60" x2="302.3" y2="72.60" stroke="#444" stroke-width="0.6"/>
<text x="299.30" y="74.85" font-size="5.88" text-anchor="end" fill="#3a3a3a" textLength="15.03" lengthAdjust="spacingAndGlyphs" >0.005</text>
<line x1="300.30" y1="55.10" x2="302.3" y2="55.10" stroke="#444" stroke-width="0.6"/>
<text x="299.30" y="57.35" font-size="5.88" text-anchor="end" fill="#3a3a3a" textLength="15.03" lengthAdjust="spacingAndGlyphs" >0.010</text>
<line x1="300.30" y1="37.60" x2="302.3" y2="37.60" stroke="#444" stroke-width="0.6"/>
<text x="299.30" y="39.85" font-size="5.88" text-anchor="end" fill="#3a3a3a" textLength="15.03" lengthAdjust="spacingAndGlyphs" >0.015</text>
<line x1="300.30" y1="20.10" x2="302.3" y2="20.10" stroke="#444" stroke-width="0.6"/>
<text x="299.30" y="22.35" font-size="5.88" text-anchor="end" fill="#3a3a3a" textLength="15.03" lengthAdjust="spacingAndGlyphs" >0.020</text>
<text x="354.05" y="11.90" font-size="7.24" text-anchor="middle" fill="#3a3a3a" textLength="49.12" lengthAdjust="spacingAndGlyphs" class="ti">Objectness loss</text>
<text x="354.05" y="98.10" font-size="5.13" text-anchor="middle" fill="#3a3a3a" textLength="13.25" lengthAdjust="spacingAndGlyphs" >epoch</text>
<text x="0" y="0" font-size="5.13" text-anchor="middle" fill="#444" textLength="11.88" lengthAdjust="spacingAndGlyphs" transform="translate(281.40,49.80) rotate(-90)">value</text>
<line x1="446.60" y1="14.2" x2="446.60" y2="84.2" stroke="#bbb" stroke-width="0.5"/>
<line x1="478.10" y1="14.2" x2="478.10" y2="84.2" stroke="#bbb" stroke-width="0.5"/>
<line x1="509.60" y1="14.2" x2="509.60" y2="84.2" stroke="#bbb" stroke-width="0.5"/>
<line x1="541.10" y1="14.2" x2="541.10" y2="84.2" stroke="#bbb" stroke-width="0.5"/>
<line x1="441.7" y1="73.70" x2="544.7" y2="73.70" stroke="#bbb" stroke-width="0.5"/>
<line x1="441.7" y1="62.08" x2="544.7" y2="62.08" stroke="#bbb" stroke-width="0.5"/>
<line x1="441.7" y1="50.46" x2="544.7" y2="50.46" stroke="#bbb" stroke-width="0.5"/>
<line x1="441.7" y1="38.84" x2="544.7" y2="38.84" stroke="#bbb" stroke-width="0.5"/>
<line x1="441.7" y1="27.22" x2="544.7" y2="27.22" stroke="#bbb" stroke-width="0.5"/>
<line x1="441.7" y1="15.60" x2="544.7" y2="15.60" stroke="#bbb" stroke-width="0.5"/>
<polyline points="446.60,17.10 446.76,28.74 446.92,38.90 447.07,48.35 447.23,52.28 447.39,55.03 447.55,57.40 447.70,58.79 447.86,60.18 448.02,61.57 448.18,62.52 448.33,62.80 448.49,62.50 448.65,63.18 448.81,63.73 448.96,64.72 449.12,65.41 449.28,65.92 449.44,65.29 449.59,66.02 449.75,65.68 449.91,66.80 450.06,66.09 450.22,67.05 450.38,67.20 450.54,67.65 450.70,67.93 450.85,67.65 451.01,67.63 451.17,68.09 451.33,69.21 451.48,70.06 451.64,70.58 451.80,70.20 451.96,69.86 452.11,69.99 452.27,69.61 452.43,70.26 452.59,71.65 452.74,71.89 452.90,72.69 453.06,72.10 453.22,72.13 453.37,71.74 453.53,70.70 453.69,71.15 453.85,71.39 454.00,72.29 454.16,72.60 454.32,71.81 454.48,72.18 454.63,71.18 454.79,70.48 454.95,70.78 455.11,71.84 455.26,72.50 455.42,72.78 455.58,73.03 455.74,73.24 455.89,72.86 456.05,73.09 456.21,73.53 456.37,73.42 456.52,73.35 456.68,73.84 456.84,73.77 457.00,74.10 457.15,73.30 457.31,72.90 457.47,73.84 457.62,74.28 457.78,74.52 457.94,75.21 458.10,74.82 458.25,74.72 458.41,73.85 458.57,73.56 458.73,74.18 458.89,74.49 459.04,75.41 459.20,75.66 459.36,75.31 459.52,75.52 459.67,75.06 459.83,75.00 459.99,75.17 460.15,75.13 460.30,75.35 460.46,75.61 460.62,75.28 460.78,75.44 460.93,75.71 461.09,75.53 461.25,75.47 461.41,76.57 461.56,75.95 461.72,76.63 461.88,76.60 462.04,76.66 462.19,76.05 462.35,76.19 462.51,76.34 462.67,76.87 462.82,76.88 462.98,77.09 463.14,76.85 463.30,76.95 463.45,76.37 463.61,76.16 463.77,76.08 463.93,76.85 464.08,76.74 464.24,77.64 464.40,77.29 464.56,76.90 464.71,76.68 464.87,76.80 465.03,77.12 465.19,77.23 465.34,77.56 465.50,77.84 465.66,77.69 465.81,77.67 465.97,77.69 466.13,77.82 466.29,77.87 466.45,77.78 466.60,78.50 466.76,78.59 466.92,78.11 467.08,78.26 467.23,77.76 467.39,77.57 467.55,77.78 467.71,78.53 467.86,78.38 468.02,78.62 468.18,78.33 468.34,77.98 468.49,77.95 468.65,77.76 468.81,78.25 468.97,77.80 469.12,78.54 469.28,78.54 469.44,77.88 469.60,78.37 469.75,78.40 469.91,78.17 470.07,78.27 470.23,78.53 470.38,78.34 470.54,79.14 470.70,78.81 470.86,78.25 471.01,78.20 471.17,77.71 471.33,78.68 471.49,78.21 471.64,78.60 471.80,78.64 471.96,78.88 472.12,78.83 472.27,78.65 472.43,78.35 472.59,79.04 472.75,79.25 472.90,79.73 473.06,79.67 473.22,78.99 473.38,79.04 473.53,78.54 473.69,78.64 473.85,78.47 474.00,78.70 474.16,78.90 474.32,78.71 474.48,78.76 474.64,78.85 474.79,78.33 474.95,78.24 475.11,78.47 475.27,78.44 475.42,78.69 475.58,79.02 475.74,78.59 475.90,78.45 476.05,78.16 476.21,77.71 476.37,77.94 476.53,78.97 476.68,79.11 476.84,79.05 477.00,79.06 477.16,78.87 477.31,78.60 477.47,78.06 477.63,78.01 477.79,78.21 477.94,78.61 478.10,67.50 478.26,78.87 478.42,78.15 478.57,77.99 478.73,78.20 478.89,78.58 479.05,78.07 479.20,78.56 479.36,78.66 479.52,78.41 479.68,78.26 479.83,78.11 479.99,78.03 480.15,77.97 480.31,78.62 480.46,79.10 480.62,79.39 480.78,79.27 480.94,79.04 481.09,78.89 481.25,79.17 481.41,78.90 481.57,79.20 481.72,79.60 481.88,79.44 482.04,78.84 482.20,78.71 482.35,78.44 482.51,78.20 482.67,78.42 482.83,79.04 482.98,79.27 483.14,79.50 483.30,79.05 483.46,79.13 483.61,78.87 483.77,78.90 483.93,78.44 484.09,78.75 484.24,79.28 484.40,78.90 484.56,78.87 484.72,78.51 484.87,78.12 485.03,77.54 485.19,78.01 485.35,77.90 485.50,78.77 485.66,78.62 485.82,78.56 485.98,78.36 486.13,78.25 486.29,78.07 486.45,78.27 486.61,78.23 486.76,78.45 486.92,78.32 487.08,78.26 487.24,78.24 487.39,78.13 487.55,77.97 487.71,78.28 487.87,78.71 488.02,78.79 488.18,78.73 488.34,78.77 488.50,78.64 488.65,79.05 488.81,77.91 488.97,78.53 489.12,78.35 489.28,79.14 489.44,78.98 489.60,79.01 489.75,78.83 489.91,78.82 490.07,77.84 490.23,78.52 490.39,79.07 490.54,79.00 490.70,79.71 490.86,79.64 491.02,78.82 491.17,78.79 491.33,78.81 491.49,79.23 491.65,79.16 491.80,79.21 491.96,78.95 492.12,79.07 492.28,79.01 492.43,78.74 492.59,78.89 492.75,78.94 492.91,79.10 493.06,79.18 493.22,78.11 493.38,52.60 493.54,76.12 493.69,75.22 493.85,74.86 494.01,75.37 494.17,76.25 494.32,76.23 494.48,76.12 494.64,76.86 494.80,76.25 494.95,76.30 495.11,76.32 495.27,76.30 495.43,77.54 495.58,77.90 495.74,77.93 495.90,78.06 496.06,77.88 496.21,77.78 496.37,77.83 496.53,77.97 496.69,78.64 496.84,79.03 497.00,80.05 497.16,79.10 497.32,79.47 497.47,79.01 497.63,78.54 497.79,78.57 497.95,79.36 498.10,79.49 498.26,79.35 498.42,78.98 498.58,78.73 498.73,78.79 498.89,77.79 499.05,78.33 499.21,78.88 499.36,78.57 499.52,79.18 499.68,79.20 499.84,78.55 499.99,78.36 500.15,77.75 500.31,78.55 500.47,78.51 500.62,79.04 500.78,79.55 500.94,79.08 501.10,79.18 501.25,78.89 501.41,78.58 501.57,78.87 501.73,78.76 501.88,78.45 502.04,79.35 502.20,79.04 502.36,78.45 502.51,78.08 502.67,78.27 502.83,77.91 502.99,77.95 503.14,77.97 503.30,78.67 503.46,77.57 503.62,76.76 503.77,77.00 503.93,76.42 504.09,76.51 504.25,77.25 504.40,77.48 504.56,78.21 504.72,77.69 504.88,77.83 505.03,77.55 505.19,77.10 505.35,77.61 505.50,78.19 505.66,78.24 505.82,78.05 505.98,78.30 506.14,78.21 506.29,78.34 506.45,77.89 506.61,78.37 506.77,78.25 506.92,78.47 507.08,78.56 507.24,78.55 507.40,78.44 507.55,78.49 507.71,78.15 507.87,78.17 508.03,78.49 508.18,78.63 508.34,78.58 508.50,78.22 508.66,77.42 508.81,54.40 508.97,75.42 509.13,75.90 509.29,74.89 509.44,75.45 509.60,76.36 509.76,76.11 509.92,76.31 510.07,76.32 510.23,76.15 510.39,76.45 510.55,77.00 510.70,77.49 510.86,77.86 511.02,77.81 511.18,77.75 511.33,77.99 511.49,76.99 511.65,77.78 511.81,78.34 511.96,78.68 512.12,78.83 512.28,78.61 512.44,78.28 512.59,77.80 512.75,76.96 512.91,77.60 513.07,77.87 513.22,78.54 513.38,78.26 513.54,77.96 513.70,77.89 513.85,77.17 514.01,77.10 514.17,77.36 514.33,77.27 514.48,77.47 514.64,77.17 514.80,77.02 514.96,76.99 515.11,77.04 515.27,76.28 515.43,76.48 515.59,76.85 515.74,77.64 515.90,77.41 516.06,77.57 516.22,77.06 516.37,76.84 516.53,76.18 516.69,76.85 516.85,77.72 517.00,77.56 517.16,77.94 517.32,76.73 517.48,77.48 517.63,76.59 517.79,76.54 517.95,76.78 518.11,76.76 518.26,77.20 518.42,77.28 518.58,78.43 518.74,77.56 518.89,77.12 519.05,76.89 519.21,77.49 519.37,77.75 519.52,78.38 519.68,79.71 519.84,77.09 520.00,77.72 520.15,76.85 520.31,76.81 520.47,75.81 520.62,77.01 520.78,78.47 520.94,77.74 521.10,78.26 521.25,77.01 521.41,76.88 521.57,75.64 521.73,76.54 521.88,76.45 522.04,77.99 522.20,77.12 522.36,77.66 522.51,76.56 522.67,76.15 522.83,76.43 522.99,75.90 523.14,76.10 523.30,76.88 523.46,77.68 523.62,76.34 523.77,76.97 523.93,75.46 524.09,74.51 524.25,75.03 524.40,76.00 524.56,77.09 524.72,78.06 524.88,77.18 525.04,76.48 525.19,76.47 525.35,74.97 525.51,77.01 525.66,77.05 525.82,76.66 525.98,77.37 526.14,75.96 526.30,77.13 526.45,75.57 526.61,74.96 526.77,76.90 526.93,75.63 527.08,76.91 527.24,76.65 527.40,76.47 527.56,76.27 527.71,75.74 527.87,76.58 528.03,76.68 528.19,76.03 528.34,78.09 528.50,77.00 528.66,76.37 528.82,76.16 528.97,74.76 529.13,75.61 529.29,74.86 529.45,75.25 529.60,77.21 529.76,76.62 529.92,76.41 530.08,75.22 530.23,75.06 530.39,74.77 530.55,73.80 530.71,75.71 530.86,75.79 531.02,77.64 531.18,77.65 531.34,76.39 531.49,76.07 531.65,75.99 531.81,76.46 531.97,75.41 532.12,75.95 532.28,76.91 532.44,76.02 532.60,76.32 532.75,76.24 532.91,75.35 533.07,76.81 533.23,78.10 533.38,77.96 533.54,78.89 533.70,77.93 533.86,77.22 534.01,76.27 534.17,75.22 534.33,76.44 534.49,76.94 534.64,76.43 534.80,76.71 534.96,75.44 535.12,75.77 535.27,75.72 535.43,75.10 535.59,75.59 535.75,75.34 535.90,75.57 536.06,76.61 536.22,77.21 536.38,75.57 536.53,74.39 536.69,74.43 536.85,75.35 537.00,76.88 537.16,77.44 537.32,76.91 537.48,76.14 537.63,75.96 537.79,75.47 537.95,74.20 538.11,76.23 538.26,76.16 538.42,77.40 538.58,77.92 538.74,77.55 538.89,76.33 539.05,75.74 539.21,75.53 539.37,75.54 539.52,76.94 539.68,75.86 539.84,77.18 540.00,75.89 540.15,74.90 540.31,75.03 540.47,75.53 540.63,75.40 540.79,76.82 540.94,75.89" fill="none" stroke="#1f77b4" stroke-width="1.25" stroke-linejoin="round"/>
<rect x="441.7" y="14.2" width="103.00" height="70.00" fill="none" stroke="#444" stroke-width="0.6"/>
<line x1="446.60" y1="84.2" x2="446.60" y2="86.20" stroke="#444" stroke-width="0.6"/>
<text x="446.60" y="91.90" font-size="5.88" text-anchor="middle" fill="#3a3a3a" textLength="3.34" lengthAdjust="spacingAndGlyphs" >0</text>
<line x1="478.10" y1="84.2" x2="478.10" y2="86.20" stroke="#444" stroke-width="0.6"/>
<text x="478.10" y="91.90" font-size="5.88" text-anchor="middle" fill="#3a3a3a" textLength="10.02" lengthAdjust="spacingAndGlyphs" >200</text>
<line x1="509.60" y1="84.2" x2="509.60" y2="86.20" stroke="#444" stroke-width="0.6"/>
<text x="509.60" y="91.90" font-size="5.88" text-anchor="middle" fill="#3a3a3a" textLength="10.02" lengthAdjust="spacingAndGlyphs" >400</text>
<line x1="541.10" y1="84.2" x2="541.10" y2="86.20" stroke="#444" stroke-width="0.6"/>
<text x="541.10" y="91.90" font-size="5.88" text-anchor="middle" fill="#3a3a3a" textLength="10.02" lengthAdjust="spacingAndGlyphs" >600</text>
<line x1="439.70" y1="73.70" x2="441.7" y2="73.70" stroke="#444" stroke-width="0.6"/>
<text x="438.70" y="75.95" font-size="5.88" text-anchor="end" fill="#3a3a3a" textLength="18.37" lengthAdjust="spacingAndGlyphs" >0.0050</text>
<line x1="439.70" y1="62.08" x2="441.7" y2="62.08" stroke="#444" stroke-width="0.6"/>
<text x="438.70" y="64.33" font-size="5.88" text-anchor="end" fill="#3a3a3a" textLength="18.37" lengthAdjust="spacingAndGlyphs" >0.0075</text>
<line x1="439.70" y1="50.46" x2="441.7" y2="50.46" stroke="#444" stroke-width="0.6"/>
<text x="438.70" y="52.71" font-size="5.88" text-anchor="end" fill="#3a3a3a" textLength="18.37" lengthAdjust="spacingAndGlyphs" >0.0100</text>
<line x1="439.70" y1="38.84" x2="441.7" y2="38.84" stroke="#444" stroke-width="0.6"/>
<text x="438.70" y="41.09" font-size="5.88" text-anchor="end" fill="#3a3a3a" textLength="18.37" lengthAdjust="spacingAndGlyphs" >0.0125</text>
<line x1="439.70" y1="27.22" x2="441.7" y2="27.22" stroke="#444" stroke-width="0.6"/>
<text x="438.70" y="29.47" font-size="5.88" text-anchor="end" fill="#3a3a3a" textLength="18.37" lengthAdjust="spacingAndGlyphs" >0.0150</text>
<line x1="439.70" y1="15.60" x2="441.7" y2="15.60" stroke="#444" stroke-width="0.6"/>
<text x="438.70" y="17.85" font-size="5.88" text-anchor="end" fill="#3a3a3a" textLength="18.37" lengthAdjust="spacingAndGlyphs" >0.0175</text>
<text x="493.20" y="11.90" font-size="7.24" text-anchor="middle" fill="#3a3a3a" textLength="81.13" lengthAdjust="spacingAndGlyphs" class="ti">Validation objectness loss</text>
<text x="493.20" y="98.10" font-size="5.13" text-anchor="middle" fill="#3a3a3a" textLength="13.25" lengthAdjust="spacingAndGlyphs" >epoch</text>
<text x="0" y="0" font-size="5.13" text-anchor="middle" fill="#444" textLength="11.88" lengthAdjust="spacingAndGlyphs" transform="translate(416.90,49.80) rotate(-90)">value</text>
<line x1="26.20" y1="143.2" x2="26.20" y2="213.0" stroke="#bbb" stroke-width="0.5"/>
<line x1="43.25" y1="143.2" x2="43.25" y2="213.0" stroke="#bbb" stroke-width="0.5"/>
<line x1="60.30" y1="143.2" x2="60.30" y2="213.0" stroke="#bbb" stroke-width="0.5"/>
<line x1="77.35" y1="143.2" x2="77.35" y2="213.0" stroke="#bbb" stroke-width="0.5"/>
<line x1="94.40" y1="143.2" x2="94.40" y2="213.0" stroke="#bbb" stroke-width="0.5"/>
<line x1="111.45" y1="143.2" x2="111.45" y2="213.0" stroke="#bbb" stroke-width="0.5"/>
<line x1="128.50" y1="143.2" x2="128.50" y2="213.0" stroke="#bbb" stroke-width="0.5"/>
<line x1="20.7" y1="213.00" x2="133.7" y2="213.00" stroke="#bbb" stroke-width="0.5"/>
<line x1="20.7" y1="199.04" x2="133.7" y2="199.04" stroke="#bbb" stroke-width="0.5"/>
<line x1="20.7" y1="185.08" x2="133.7" y2="185.08" stroke="#bbb" stroke-width="0.5"/>
<line x1="20.7" y1="171.12" x2="133.7" y2="171.12" stroke="#bbb" stroke-width="0.5"/>
<line x1="20.7" y1="157.16" x2="133.7" y2="157.16" stroke="#bbb" stroke-width="0.5"/>
<line x1="20.7" y1="143.20" x2="133.7" y2="143.20" stroke="#bbb" stroke-width="0.5"/>
<polyline points="26.20,213.00 26.37,213.00 26.54,213.00 26.71,213.00 26.88,213.00 27.05,213.00 27.22,213.00 27.39,213.00 27.56,213.00 27.73,213.00 27.90,213.00 28.08,143.20 28.25,213.00 28.42,143.20 28.59,213.00 28.76,143.20 28.93,213.00 29.10,143.20 29.27,213.00 29.44,143.20 29.61,213.00 29.78,143.20 29.95,213.00 30.12,190.04 30.29,189.19 30.46,190.46 30.63,191.19 30.80,191.81 30.97,192.29 31.14,191.44 31.31,192.23 31.49,192.49 31.66,191.89 31.83,191.50 32.00,190.79 32.17,191.13 32.34,190.14 32.51,192.55 32.68,194.06 32.85,195.78 33.02,196.95 33.19,197.28 33.36,198.12 33.53,196.53 33.70,197.56 33.87,195.97 34.04,194.57 34.21,192.67 34.38,191.25 34.55,192.23 34.72,192.09 34.90,193.40 35.07,195.46 35.24,193.37 35.41,194.92 35.58,196.81 35.75,197.92 35.92,195.25 36.09,194.92 36.26,193.26 36.43,192.10 36.60,191.78 36.77,190.43 36.94,190.12 37.11,190.94 37.28,193.06 37.45,192.34 37.62,194.76 37.79,194.46 37.96,195.58 38.13,197.14 38.31,198.36 38.48,197.26 38.65,195.00 38.82,196.96 38.99,196.02 39.16,194.36 39.33,193.64 39.50,194.35 39.67,193.79 39.84,197.44 40.01,195.46 40.18,196.20 40.35,196.59 40.52,196.79 40.69,196.23 40.86,196.97 41.03,195.24 41.20,195.06 41.37,194.92 41.55,195.98 41.72,194.05 41.89,194.48 42.06,196.07 42.23,195.22 42.40,196.35 42.57,197.85 42.74,197.86 42.91,197.95 43.08,198.42 43.25,195.88 43.42,194.88 43.59,193.03 43.76,193.71 43.93,193.35 44.10,191.32 44.27,194.44 44.44,194.57 44.61,195.38 44.78,194.41 44.95,196.60 45.13,197.55 45.30,196.34 45.47,197.03 45.64,195.78 45.81,193.42 45.98,194.30 46.15,194.59 46.32,192.40 46.49,189.95 46.66,191.49 46.83,193.71 47.00,193.03 47.17,195.08 47.34,195.82 47.51,196.97 47.68,199.26 47.85,195.96 48.02,197.75 48.19,196.41 48.36,195.55 48.54,193.63 48.71,194.78 48.88,193.61 49.05,192.20 49.22,194.35 49.39,195.28 49.56,196.22 49.73,197.35 49.90,197.94 50.07,200.79 50.24,198.97 50.41,196.59 50.58,196.47 50.75,195.72 50.92,192.92 51.09,189.97 51.26,190.05 51.43,191.76 51.60,190.48 51.77,192.13 51.95,193.75 52.12,194.76 52.29,195.28 52.46,195.67 52.63,194.64 52.80,193.68 52.97,194.44 53.14,193.79 53.31,191.99 53.48,191.22 53.65,192.30 53.82,193.01 53.99,192.42 54.16,192.59 54.33,195.02 54.50,196.54 54.67,197.59 54.84,198.38 55.01,195.36 55.18,195.71 55.36,194.33 55.53,193.02 55.70,194.88 55.87,191.63 56.04,190.84 56.21,190.76 56.38,191.99 56.55,192.80 56.72,191.96 56.89,192.57 57.06,192.62 57.23,192.53 57.40,192.67 57.57,192.54 57.74,191.69 57.91,190.89 58.08,188.94 58.25,190.23 58.42,189.51 58.59,191.26 58.77,190.02 58.94,189.99 59.11,190.12 59.28,191.80 59.45,192.88 59.62,193.74 59.79,190.97 59.96,190.64 60.13,190.86 60.30,188.95 60.47,177.80 60.64,199.10 60.81,184.20 60.98,185.70 61.15,187.80 61.32,190.64 61.49,191.95 61.66,192.20 61.83,194.24 62.00,195.44 62.18,195.40 62.35,193.14 62.52,193.29 62.69,193.20 62.86,190.55 63.03,190.68 63.20,190.06 63.37,190.55 63.54,190.98 63.71,191.39 63.88,192.10 64.05,192.79 64.22,192.27 64.39,194.21 64.56,191.33 64.73,191.02 64.90,190.92 65.07,189.40 65.24,188.23 65.41,187.81 65.59,189.44 65.76,188.19 65.93,187.94 66.10,191.14 66.27,190.16 66.44,190.36 66.61,189.69 66.78,191.14 66.95,189.46 67.12,189.13 67.29,187.90 67.46,186.80 67.63,186.29 67.80,184.38 67.97,183.90 68.14,184.80 68.31,187.11 68.48,188.64 68.65,189.98 68.82,188.76 69.00,193.32 69.17,192.82 69.34,191.76 69.51,190.67 69.68,189.50 69.85,189.54 70.02,187.36 70.19,186.34 70.36,185.77 70.53,186.76 70.70,185.28 70.87,185.74 71.04,185.75 71.21,186.42 71.38,189.11 71.55,189.57 71.72,188.72 71.89,188.27 72.06,187.44 72.23,187.47 72.41,187.15 72.58,184.03 72.75,185.36 72.92,185.97 73.09,185.25 73.26,187.17 73.43,187.62 73.60,187.45 73.77,190.10 73.94,189.56 74.11,189.49 74.28,186.83 74.45,185.85 74.62,185.28 74.79,182.98 74.96,180.46 75.13,179.77 75.30,181.05 75.47,182.17 75.64,181.32 75.82,184.04 75.99,183.66 76.16,184.15 76.33,186.63 76.50,185.57 76.67,185.10 76.84,184.05 77.01,181.65 77.18,183.02 77.35,143.20 77.52,180.88 77.69,182.79 77.86,181.46 78.03,183.14 78.20,182.82 78.37,181.21 78.54,181.24 78.71,181.90 78.88,180.47 79.05,179.50 79.23,176.68 79.40,174.71 79.57,176.25 79.74,172.69 79.91,171.40 80.08,173.66 80.25,172.94 80.42,171.45 80.59,175.00 80.76,174.79 80.93,177.21 81.10,175.37 81.27,176.26 81.44,175.83 81.61,175.39 81.78,173.93 81.95,172.87 82.12,170.94 82.29,169.90 82.46,169.73 82.64,172.40 82.81,173.74 82.98,173.60 83.15,172.95 83.32,173.20 83.49,174.83 83.66,175.55 83.83,172.89 84.00,170.49 84.17,169.78 84.34,169.61 84.51,166.88 84.68,165.74 84.85,166.52 85.02,166.99 85.19,170.31 85.36,168.22 85.53,169.84 85.70,171.30 85.88,170.62 86.05,168.98 86.22,167.87 86.39,166.66 86.56,165.10 86.73,163.52 86.90,162.22 87.07,161.68 87.24,164.56 87.41,163.73 87.58,166.19 87.75,166.51 87.92,167.04 88.09,168.14 88.26,170.85 88.43,168.53 88.60,169.48 88.77,167.98 88.94,169.22 89.11,165.82 89.28,167.15 89.46,166.54 89.63,166.84 89.80,166.36 89.97,168.07 90.14,168.71 90.31,169.28 90.48,171.16 90.65,171.05 90.82,170.13 90.99,169.71 91.16,167.31 91.33,165.81 91.50,165.13 91.67,163.20 91.84,160.18 92.01,162.89 92.18,164.18 92.35,164.14 92.52,164.62 92.69,168.16 92.87,168.31 93.04,170.84 93.21,169.55 93.38,169.48 93.55,167.43 93.72,166.64 93.89,165.97 94.06,166.43 94.23,143.20 94.40,174.91 94.57,176.55 94.74,181.87 94.91,187.65 95.08,193.78 95.25,196.36 95.42,197.10 95.59,195.85 95.76,196.76 95.93,195.71 96.10,193.90 96.28,193.87 96.45,192.26 96.62,192.80 96.79,190.41 96.96,191.42 97.13,193.10 97.30,191.49 97.47,191.36 97.64,192.03 97.81,194.24 97.98,192.01 98.15,192.44 98.32,189.45 98.49,189.36 98.66,189.43 98.83,188.20 99.00,186.63 99.17,185.22 99.34,188.20 99.52,188.68 99.69,188.66 99.86,186.79 100.03,187.32 100.20,188.39 100.37,186.43 100.54,186.94 100.71,183.30 100.88,182.52 101.05,180.23 101.22,178.07 101.39,179.24 101.56,178.82 101.73,178.38 101.90,179.51 102.07,177.75 102.24,181.86 102.41,179.70 102.58,179.24 102.75,178.79 102.92,179.13 103.10,178.00 103.27,177.73 103.44,176.84 103.61,175.28 103.78,175.33 103.95,173.88 104.12,177.50 104.29,178.86 104.46,180.10 104.63,180.96 104.80,181.95 104.97,183.24 105.14,181.16 105.31,181.33 105.48,181.88 105.65,181.24 105.82,178.33 105.99,177.26 106.16,176.27 106.33,177.68 106.51,178.87 106.68,180.38 106.85,182.37 107.02,180.02 107.19,182.01 107.36,183.64 107.53,182.94 107.70,182.29 107.87,182.54 108.04,178.77 108.21,179.22 108.38,177.40 108.55,176.44 108.72,177.31 108.89,178.49 109.06,178.40 109.23,177.82 109.40,180.00 109.57,180.64 109.74,179.26 109.92,180.26 110.09,178.80 110.26,177.75 110.43,177.05 110.60,177.71 110.77,173.41 110.94,174.27 111.11,173.27 111.28,176.16 111.45,178.07 111.62,176.38 111.79,180.10 111.96,180.26 112.13,180.49 112.30,179.43 112.47,178.59 112.64,177.67 112.81,176.57 112.98,176.64 113.16,175.39 113.33,172.72 113.50,175.61 113.67,177.30 113.84,178.04 114.01,177.68 114.18,176.78 114.35,178.78 114.52,180.11 114.69,179.12 114.86,176.72 115.03,177.74 115.20,177.00 115.37,173.76 115.54,173.32 115.71,172.04 115.88,173.46 116.05,175.06 116.22,172.61 116.39,176.94 116.56,177.09 116.74,175.57 116.91,179.20 117.08,178.13 117.25,176.87 117.42,176.03 117.59,174.19 117.76,174.93 117.93,173.00 118.10,173.25 118.27,175.28 118.44,174.95 118.61,175.74 118.78,177.95 118.95,179.44 119.12,180.53 119.29,180.40 119.46,181.53 119.63,181.33 119.80,178.91 119.97,179.37 120.15,176.56 120.32,177.71 120.49,176.37 120.66,177.61 120.83,176.87 121.00,175.17 121.17,178.10 121.34,176.49 121.51,178.67 121.68,178.94 121.85,176.30 122.02,174.38 122.19,173.66 122.36,170.98 122.53,171.44 122.70,171.27 122.87,169.97 123.04,169.24 123.21,172.75 123.38,172.75 123.56,172.30 123.73,174.67 123.90,174.28 124.07,175.72 124.24,175.06 124.41,175.67 124.58,175.12 124.75,169.98 124.92,170.23 125.09,168.95 125.26,168.58 125.43,169.40 125.60,169.56 125.77,171.58 125.94,171.74 126.11,172.68 126.28,175.16 126.45,175.88 126.62,173.69 126.79,173.49 126.97,171.03 127.14,169.23 127.31,168.44 127.48,167.74 127.65,165.11 127.82,168.71 127.99,168.62 128.16,170.75 128.33,172.91" fill="none" stroke="#1f77b4" stroke-width="1.25" stroke-linejoin="round"/>
<rect x="20.7" y="143.2" width="113.00" height="69.80" fill="none" stroke="#444" stroke-width="0.6"/>
<line x1="26.20" y1="213.0" x2="26.20" y2="215.00" stroke="#444" stroke-width="0.6"/>
<text x="26.20" y="220.70" font-size="5.88" text-anchor="middle" fill="#3a3a3a" textLength="3.34" lengthAdjust="spacingAndGlyphs" >0</text>
<line x1="43.25" y1="213.0" x2="43.25" y2="215.00" stroke="#444" stroke-width="0.6"/>
<text x="43.25" y="220.70" font-size="5.88" text-anchor="middle" fill="#3a3a3a" textLength="10.02" lengthAdjust="spacingAndGlyphs" >100</text>
<line x1="60.30" y1="213.0" x2="60.30" y2="215.00" stroke="#444" stroke-width="0.6"/>
<text x="60.30" y="220.70" font-size="5.88" text-anchor="middle" fill="#3a3a3a" textLength="10.02" lengthAdjust="spacingAndGlyphs" >200</text>
<line x1="77.35" y1="213.0" x2="77.35" y2="215.00" stroke="#444" stroke-width="0.6"/>
<text x="77.35" y="220.70" font-size="5.88" text-anchor="middle" fill="#3a3a3a" textLength="10.02" lengthAdjust="spacingAndGlyphs" >300</text>
<line x1="94.40" y1="213.0" x2="94.40" y2="215.00" stroke="#444" stroke-width="0.6"/>
<text x="94.40" y="220.70" font-size="5.88" text-anchor="middle" fill="#3a3a3a" textLength="10.02" lengthAdjust="spacingAndGlyphs" >400</text>
<line x1="111.45" y1="213.0" x2="111.45" y2="215.00" stroke="#444" stroke-width="0.6"/>
<text x="111.45" y="220.70" font-size="5.88" text-anchor="middle" fill="#3a3a3a" textLength="10.02" lengthAdjust="spacingAndGlyphs" >500</text>
<line x1="128.50" y1="213.0" x2="128.50" y2="215.00" stroke="#444" stroke-width="0.6"/>
<text x="128.50" y="220.70" font-size="5.88" text-anchor="middle" fill="#3a3a3a" textLength="10.02" lengthAdjust="spacingAndGlyphs" >600</text>
<line x1="18.70" y1="213.00" x2="20.7" y2="213.00" stroke="#444" stroke-width="0.6"/>
<text x="17.70" y="215.25" font-size="5.88" text-anchor="end" fill="#3a3a3a" textLength="8.35" lengthAdjust="spacingAndGlyphs" >0.0</text>
<line x1="18.70" y1="199.04" x2="20.7" y2="199.04" stroke="#444" stroke-width="0.6"/>
<text x="17.70" y="201.29" font-size="5.88" text-anchor="end" fill="#3a3a3a" textLength="8.35" lengthAdjust="spacingAndGlyphs" >0.2</text>
<line x1="18.70" y1="185.08" x2="20.7" y2="185.08" stroke="#444" stroke-width="0.6"/>
<text x="17.70" y="187.33" font-size="5.88" text-anchor="end" fill="#3a3a3a" textLength="8.35" lengthAdjust="spacingAndGlyphs" >0.4</text>
<line x1="18.70" y1="171.12" x2="20.7" y2="171.12" stroke="#444" stroke-width="0.6"/>
<text x="17.70" y="173.37" font-size="5.88" text-anchor="end" fill="#3a3a3a" textLength="8.35" lengthAdjust="spacingAndGlyphs" >0.6</text>
<line x1="18.70" y1="157.16" x2="20.7" y2="157.16" stroke="#444" stroke-width="0.6"/>
<text x="17.70" y="159.41" font-size="5.88" text-anchor="end" fill="#3a3a3a" textLength="8.35" lengthAdjust="spacingAndGlyphs" >0.8</text>
<line x1="18.70" y1="143.20" x2="20.7" y2="143.20" stroke="#444" stroke-width="0.6"/>
<text x="17.70" y="145.45" font-size="5.88" text-anchor="end" fill="#3a3a3a" textLength="8.35" lengthAdjust="spacingAndGlyphs" >1.0</text>
<text x="77.20" y="140.90" font-size="7.24" text-anchor="middle" fill="#3a3a3a" textLength="55.3" lengthAdjust="spacingAndGlyphs" class="ti">Precision (CT 0.1)</text>
<text x="77.20" y="226.90" font-size="5.13" text-anchor="middle" fill="#3a3a3a" textLength="13.25" lengthAdjust="spacingAndGlyphs" >epoch</text>
<text x="0" y="0" font-size="5.13" text-anchor="middle" fill="#444" textLength="11.88" lengthAdjust="spacingAndGlyphs" transform="translate(6.00,177.80) rotate(-90)">value</text>
<line x1="163.40" y1="143.2" x2="163.40" y2="213.0" stroke="#bbb" stroke-width="0.5"/>
<line x1="180.45" y1="143.2" x2="180.45" y2="213.0" stroke="#bbb" stroke-width="0.5"/>
<line x1="197.50" y1="143.2" x2="197.50" y2="213.0" stroke="#bbb" stroke-width="0.5"/>
<line x1="214.55" y1="143.2" x2="214.55" y2="213.0" stroke="#bbb" stroke-width="0.5"/>
<line x1="231.60" y1="143.2" x2="231.60" y2="213.0" stroke="#bbb" stroke-width="0.5"/>
<line x1="248.65" y1="143.2" x2="248.65" y2="213.0" stroke="#bbb" stroke-width="0.5"/>
<line x1="265.70" y1="143.2" x2="265.70" y2="213.0" stroke="#bbb" stroke-width="0.5"/>
<line x1="158.2" y1="213.00" x2="270.8" y2="213.00" stroke="#bbb" stroke-width="0.5"/>
<line x1="158.2" y1="199.04" x2="270.8" y2="199.04" stroke="#bbb" stroke-width="0.5"/>
<line x1="158.2" y1="185.08" x2="270.8" y2="185.08" stroke="#bbb" stroke-width="0.5"/>
<line x1="158.2" y1="171.12" x2="270.8" y2="171.12" stroke="#bbb" stroke-width="0.5"/>
<line x1="158.2" y1="157.16" x2="270.8" y2="157.16" stroke="#bbb" stroke-width="0.5"/>
<line x1="158.2" y1="143.20" x2="270.8" y2="143.20" stroke="#bbb" stroke-width="0.5"/>
<polyline points="163.40,213.00 163.57,212.93 163.74,212.87 163.91,212.78 164.08,212.65 164.25,212.43 164.42,212.28 164.59,212.45 164.76,212.28 164.93,212.33 165.11,212.25 165.28,212.68 165.45,213.00 165.62,212.81 165.79,212.10 165.96,211.48 166.13,209.97 166.30,209.34 166.47,205.80 166.64,206.58 166.81,207.48 166.98,206.15 167.15,208.44 167.32,208.50 167.49,207.50 167.66,204.47 167.83,201.51 168.00,198.96 168.17,197.18 168.34,193.95 168.52,191.81 168.69,192.34 168.86,189.01 169.03,186.88 169.20,186.92 169.37,185.84 169.54,186.71 169.71,184.51 169.88,183.88 170.05,178.44 170.22,177.22 170.39,174.67 170.56,171.94 170.73,170.60 170.90,172.59 171.07,169.29 171.24,168.68 171.41,169.72 171.58,170.11 171.75,170.00 171.93,164.99 172.10,164.28 172.27,162.13 172.44,160.79 172.61,160.03 172.78,158.80 172.95,157.73 173.12,160.32 173.29,159.61 173.46,161.99 173.63,162.15 173.80,163.13 173.97,160.41 174.14,157.90 174.31,158.15 174.48,157.87 174.65,155.74 174.82,156.25 174.99,156.62 175.16,157.10 175.34,157.19 175.51,160.12 175.68,159.88 175.85,156.63 176.02,158.06 176.19,155.65 176.36,154.60 176.53,153.25 176.70,153.09 176.87,150.35 177.04,153.68 177.21,155.25 177.38,155.51 177.55,154.91 177.72,156.37 177.89,156.89 178.06,157.12 178.23,152.41 178.40,152.79 178.57,152.69 178.75,151.52 178.92,152.49 179.09,153.79 179.26,154.00 179.43,152.21 179.60,154.11 179.77,153.89 179.94,154.31 180.11,155.22 180.28,154.12 180.45,154.94 180.62,153.35 180.79,152.46 180.96,153.79 181.13,153.36 181.30,155.35 181.47,157.54 181.64,159.13 181.81,160.37 181.98,156.86 182.16,154.88 182.33,152.96 182.50,154.33 182.67,150.37 182.84,149.55 183.01,150.20 183.18,151.67 183.35,153.19 183.52,154.62 183.69,156.71 183.86,159.09 184.03,155.55 184.20,155.69 184.37,154.04 184.54,152.60 184.71,152.49 184.88,152.21 185.05,149.46 185.22,151.49 185.39,152.91 185.56,153.08 185.74,150.92 185.91,153.74 186.08,152.39 186.25,151.97 186.42,152.88 186.59,150.58 186.76,151.56 186.93,151.85 187.10,150.80 187.27,150.99 187.44,154.94 187.61,152.11 187.78,155.17 187.95,153.58 188.12,153.96 188.29,152.66 188.46,152.78 188.63,152.19 188.80,150.25 188.97,150.66 189.15,152.81 189.32,151.95 189.49,151.37 189.66,155.05 189.83,154.83 190.00,157.12 190.17,154.84 190.34,152.95 190.51,152.05 190.68,151.25 190.85,149.76 191.02,146.53 191.19,147.96 191.36,149.67 191.53,153.82 191.70,154.33 191.87,154.72 192.04,156.97 192.21,157.20 192.38,153.04 192.56,152.32 192.73,152.09 192.90,150.56 193.07,148.98 193.24,149.31 193.41,152.28 193.58,151.69 193.75,155.87 193.92,157.59 194.09,159.46 194.26,160.12 194.43,157.39 194.60,156.14 194.77,155.87 194.94,155.82 195.11,151.74 195.28,154.18 195.45,153.83 195.62,153.22 195.80,155.04 195.97,156.76 196.14,156.90 196.31,155.34 196.48,154.47 196.65,152.84 196.82,151.47 196.99,149.29 197.16,149.65 197.33,148.78 197.50,153.67 197.67,206.50 197.84,158.74 198.01,158.89 198.18,159.82 198.35,161.19 198.52,160.06 198.69,155.28 198.86,156.00 199.03,154.16 199.21,151.10 199.38,153.56 199.55,152.72 199.72,155.59 199.89,156.67 200.06,155.79 200.23,156.74 200.40,156.18 200.57,153.02 200.74,153.36 200.91,153.06 201.08,154.47 201.25,152.33 201.42,152.92 201.59,153.31 201.76,156.27 201.93,157.57 202.10,157.63 202.27,160.43 202.44,158.11 202.62,157.93 202.79,153.80 202.96,157.81 203.13,154.57 203.30,152.85 203.47,154.50 203.64,154.57 203.81,157.37 203.98,160.22 204.15,160.24 204.32,160.71 204.49,160.57 204.66,160.46 204.83,159.54 205.00,158.94 205.17,159.13 205.34,158.91 205.51,158.69 205.68,160.29 205.85,159.32 206.03,159.33 206.20,159.89 206.37,163.06 206.54,161.49 206.71,161.94 206.88,160.82 207.05,160.93 207.22,161.21 207.39,159.12 207.56,161.03 207.73,164.43 207.90,165.93 208.07,164.85 208.24,165.80 208.41,165.82 208.58,164.35 208.75,165.46 208.92,165.00 209.09,163.22 209.26,162.36 209.44,160.00 209.61,162.88 209.78,162.67 209.95,162.45 210.12,165.10 210.29,163.76 210.46,164.37 210.63,163.98 210.80,160.84 210.97,158.96 211.14,158.98 211.31,156.62 211.48,154.04 211.65,156.90 211.82,157.97 211.99,160.32 212.16,161.97 212.33,163.59 212.50,163.08 212.67,163.86 212.84,161.50 213.02,160.55 213.19,158.66 213.36,158.04 213.53,155.56 213.70,155.47 213.87,156.97 214.04,156.21 214.21,155.60 214.38,156.97 214.55,157.15 214.72,156.19 214.89,156.71 215.06,156.45 215.23,156.71 215.40,210.70 215.57,157.12 215.74,160.73 215.91,162.75 216.08,164.04 216.25,165.57 216.43,166.32 216.60,167.48 216.77,169.29 216.94,164.70 217.11,163.43 217.28,164.04 217.45,159.91 217.62,161.54 217.79,162.10 217.96,165.94 218.13,165.56 218.30,167.99 218.47,171.85 218.64,172.75 218.81,171.36 218.98,172.29 219.15,170.21 219.32,168.34 219.49,168.37 219.66,167.98 219.84,168.14 220.01,172.07 220.18,171.12 220.35,171.41 220.52,172.71 220.69,174.62 220.86,172.54 221.03,172.41 221.20,172.38 221.37,171.64 221.54,171.16 221.71,167.53 221.88,170.71 222.05,172.03 222.22,173.97 222.39,172.44 222.56,174.20 222.73,174.51 222.90,173.29 223.07,174.14 223.25,173.18 223.42,172.83 223.59,169.09 223.76,168.72 223.93,173.50 224.10,174.54 224.27,179.91 224.44,185.70 224.61,182.82 224.78,187.65 224.95,185.10 225.12,183.95 225.29,181.55 225.46,178.20 225.63,178.04 225.80,176.01 225.97,176.11 226.14,178.14 226.31,179.21 226.49,178.40 226.66,180.88 226.83,180.90 227.00,179.75 227.17,177.86 227.34,174.64 227.51,176.07 227.68,171.88 227.85,170.26 228.02,170.61 228.19,172.84 228.36,175.66 228.53,175.79 228.70,180.29 228.87,184.97 229.04,182.56 229.21,182.84 229.38,181.01 229.55,182.30 229.72,182.29 229.89,181.59 230.07,183.11 230.24,182.97 230.41,184.00 230.58,186.44 230.75,187.07 230.92,187.25 231.09,188.23 231.26,185.32 231.43,178.57 231.60,170.92 231.77,210.90 231.94,152.56 232.11,146.12 232.28,143.84 232.45,145.63 232.62,147.08 232.79,151.42 232.96,154.00 233.13,153.70 233.31,153.62 233.48,151.99 233.65,152.60 233.82,151.48 233.99,149.72 234.16,151.74 234.33,151.30 234.50,153.12 234.67,153.58 234.84,156.38 235.01,155.68 235.18,156.74 235.35,154.36 235.52,155.99 235.69,156.32 235.86,155.23 236.03,154.16 236.20,155.52 236.37,157.74 236.54,158.67 236.72,159.38 236.89,159.45 237.06,160.60 237.23,159.98 237.40,157.70 237.57,157.10 237.74,155.86 237.91,153.30 238.08,150.71 238.25,153.69 238.42,157.34 238.59,157.32 238.76,162.73 238.93,165.23 239.10,166.28 239.27,164.66 239.44,162.29 239.61,161.27 239.78,158.27 239.95,154.35 240.12,149.12 240.30,157.80 240.47,158.97 240.64,159.98 240.81,161.24 240.98,165.09 241.15,166.92 241.32,168.26 241.49,165.93 241.66,161.31 241.83,162.47 242.00,159.56 242.17,158.94 242.34,158.73 242.51,158.30 242.68,159.77 242.85,162.67 243.02,164.72 243.19,166.46 243.36,165.24 243.53,162.36 243.71,161.58 243.88,160.75 244.05,158.71 244.22,158.99 244.39,158.13 244.56,160.21 244.73,161.05 244.90,162.42 245.07,164.92 245.24,164.66 245.41,164.36 245.58,163.02 245.75,162.09 245.92,162.73 246.09,159.71 246.26,159.35 246.43,161.61 246.60,162.47 246.77,163.42 246.94,164.54 247.12,164.71 247.29,167.95 247.46,165.35 247.63,165.49 247.80,163.01 247.97,158.08 248.14,159.33 248.31,158.16 248.48,158.91 248.65,161.14 248.82,163.03 248.99,164.98 249.16,164.99 249.33,168.24 249.50,168.80 249.67,164.96 249.84,166.42 250.01,162.44 250.18,164.92 250.36,165.17 250.53,165.87 250.70,164.23 250.87,169.34 251.04,168.36 251.21,170.44 251.38,169.05 251.55,167.62 251.72,166.38 251.89,165.69 252.06,164.58 252.23,160.81 252.40,160.90 252.57,163.02 252.74,164.72 252.91,164.45 253.08,165.73 253.25,169.50 253.42,169.61 253.59,167.23 253.76,166.36 253.94,164.43 254.11,163.58 254.28,161.56 254.45,160.88 254.62,161.58 254.79,162.22 254.96,163.16 255.13,165.30 255.30,167.43 255.47,168.77 255.64,165.87 255.81,164.83 255.98,165.04 256.15,159.23 256.32,159.25 256.49,155.70 256.66,159.90 256.83,161.66 257.00,163.73 257.18,164.80 257.35,166.61 257.52,167.16 257.69,167.29 257.86,165.57 258.03,163.20 258.20,161.94 258.37,162.87 258.54,159.07 258.71,161.20 258.88,162.35 259.05,167.22 259.22,168.57 259.39,173.89 259.56,174.03 259.73,172.33 259.90,171.22 260.07,168.52 260.24,167.95 260.41,167.11 260.58,165.49 260.76,165.32 260.93,164.72 261.10,167.78 261.27,169.11 261.44,167.74 261.61,165.34 261.78,165.72 261.95,163.12 262.12,161.61 262.29,160.18 262.46,158.61 262.63,154.37 262.80,157.93 262.97,158.55 263.14,162.05 263.31,166.19 263.48,166.57 263.65,168.58 263.82,169.13 264.00,165.93 264.17,163.80 264.34,163.94 264.51,161.02 264.68,160.72 264.85,162.39 265.02,163.50 265.19,169.28 265.36,168.29 265.53,172.48" fill="none" stroke="#1f77b4" stroke-width="1.25" stroke-linejoin="round"/>
<rect x="158.2" y="143.2" width="112.60" height="69.80" fill="none" stroke="#444" stroke-width="0.6"/>
<line x1="163.40" y1="213.0" x2="163.40" y2="215.00" stroke="#444" stroke-width="0.6"/>
<text x="163.40" y="220.70" font-size="5.88" text-anchor="middle" fill="#3a3a3a" textLength="3.34" lengthAdjust="spacingAndGlyphs" >0</text>
<line x1="180.45" y1="213.0" x2="180.45" y2="215.00" stroke="#444" stroke-width="0.6"/>
<text x="180.45" y="220.70" font-size="5.88" text-anchor="middle" fill="#3a3a3a" textLength="10.02" lengthAdjust="spacingAndGlyphs" >100</text>
<line x1="197.50" y1="213.0" x2="197.50" y2="215.00" stroke="#444" stroke-width="0.6"/>
<text x="197.50" y="220.70" font-size="5.88" text-anchor="middle" fill="#3a3a3a" textLength="10.02" lengthAdjust="spacingAndGlyphs" >200</text>
<line x1="214.55" y1="213.0" x2="214.55" y2="215.00" stroke="#444" stroke-width="0.6"/>
<text x="214.55" y="220.70" font-size="5.88" text-anchor="middle" fill="#3a3a3a" textLength="10.02" lengthAdjust="spacingAndGlyphs" >300</text>
<line x1="231.60" y1="213.0" x2="231.60" y2="215.00" stroke="#444" stroke-width="0.6"/>
<text x="231.60" y="220.70" font-size="5.88" text-anchor="middle" fill="#3a3a3a" textLength="10.02" lengthAdjust="spacingAndGlyphs" >400</text>
<line x1="248.65" y1="213.0" x2="248.65" y2="215.00" stroke="#444" stroke-width="0.6"/>
<text x="248.65" y="220.70" font-size="5.88" text-anchor="middle" fill="#3a3a3a" textLength="10.02" lengthAdjust="spacingAndGlyphs" >500</text>
<line x1="265.70" y1="213.0" x2="265.70" y2="215.00" stroke="#444" stroke-width="0.6"/>
<text x="265.70" y="220.70" font-size="5.88" text-anchor="middle" fill="#3a3a3a" textLength="10.02" lengthAdjust="spacingAndGlyphs" >600</text>
<line x1="156.20" y1="213.00" x2="158.2" y2="213.00" stroke="#444" stroke-width="0.6"/>
<text x="155.20" y="215.25" font-size="5.88" text-anchor="end" fill="#3a3a3a" textLength="8.35" lengthAdjust="spacingAndGlyphs" >0.0</text>
<line x1="156.20" y1="199.04" x2="158.2" y2="199.04" stroke="#444" stroke-width="0.6"/>
<text x="155.20" y="201.29" font-size="5.88" text-anchor="end" fill="#3a3a3a" textLength="8.35" lengthAdjust="spacingAndGlyphs" >0.2</text>
<line x1="156.20" y1="185.08" x2="158.2" y2="185.08" stroke="#444" stroke-width="0.6"/>
<text x="155.20" y="187.33" font-size="5.88" text-anchor="end" fill="#3a3a3a" textLength="8.35" lengthAdjust="spacingAndGlyphs" >0.4</text>
<line x1="156.20" y1="171.12" x2="158.2" y2="171.12" stroke="#444" stroke-width="0.6"/>
<text x="155.20" y="173.37" font-size="5.88" text-anchor="end" fill="#3a3a3a" textLength="8.35" lengthAdjust="spacingAndGlyphs" >0.6</text>
<line x1="156.20" y1="157.16" x2="158.2" y2="157.16" stroke="#444" stroke-width="0.6"/>
<text x="155.20" y="159.41" font-size="5.88" text-anchor="end" fill="#3a3a3a" textLength="8.35" lengthAdjust="spacingAndGlyphs" >0.8</text>
<line x1="156.20" y1="143.20" x2="158.2" y2="143.20" stroke="#444" stroke-width="0.6"/>
<text x="155.20" y="145.45" font-size="5.88" text-anchor="end" fill="#3a3a3a" textLength="8.35" lengthAdjust="spacingAndGlyphs" >1.0</text>
<text x="214.50" y="140.90" font-size="7.24" text-anchor="middle" fill="#3a3a3a" textLength="45.98" lengthAdjust="spacingAndGlyphs" class="ti">Recall (CT 0.1)</text>
<text x="214.50" y="226.90" font-size="5.13" text-anchor="middle" fill="#3a3a3a" textLength="13.25" lengthAdjust="spacingAndGlyphs" >epoch</text>
<text x="0" y="0" font-size="5.13" text-anchor="middle" fill="#444" textLength="11.88" lengthAdjust="spacingAndGlyphs" transform="translate(143.70,177.80) rotate(-90)">value</text>
<line x1="300.50" y1="143.2" x2="300.50" y2="213.0" stroke="#bbb" stroke-width="0.5"/>
<line x1="317.55" y1="143.2" x2="317.55" y2="213.0" stroke="#bbb" stroke-width="0.5"/>
<line x1="334.60" y1="143.2" x2="334.60" y2="213.0" stroke="#bbb" stroke-width="0.5"/>
<line x1="351.65" y1="143.2" x2="351.65" y2="213.0" stroke="#bbb" stroke-width="0.5"/>
<line x1="368.70" y1="143.2" x2="368.70" y2="213.0" stroke="#bbb" stroke-width="0.5"/>
<line x1="385.75" y1="143.2" x2="385.75" y2="213.0" stroke="#bbb" stroke-width="0.5"/>
<line x1="402.80" y1="143.2" x2="402.80" y2="213.0" stroke="#bbb" stroke-width="0.5"/>
<line x1="295.5" y1="213.00" x2="407.5" y2="213.00" stroke="#bbb" stroke-width="0.5"/>
<line x1="295.5" y1="199.04" x2="407.5" y2="199.04" stroke="#bbb" stroke-width="0.5"/>
<line x1="295.5" y1="185.08" x2="407.5" y2="185.08" stroke="#bbb" stroke-width="0.5"/>
<line x1="295.5" y1="171.12" x2="407.5" y2="171.12" stroke="#bbb" stroke-width="0.5"/>
<line x1="295.5" y1="157.16" x2="407.5" y2="157.16" stroke="#bbb" stroke-width="0.5"/>
<line x1="295.5" y1="143.20" x2="407.5" y2="143.20" stroke="#bbb" stroke-width="0.5"/>
<polyline points="300.50,213.00 300.67,208.56 300.84,205.52 301.01,202.35 301.18,198.94 301.35,198.37 301.52,197.16 301.69,195.20 301.86,195.42 302.03,195.24 302.20,195.31 302.38,197.06 302.55,195.25 302.72,196.00 302.89,197.12 303.06,195.06 303.23,193.94 303.40,193.61 303.57,191.62 303.74,190.55 303.91,189.91 304.08,188.62 304.25,183.60 304.42,189.54 304.59,191.55 304.76,193.94 304.93,193.70 305.10,196.50 305.27,197.86 305.44,197.00 305.62,194.79 305.79,196.95 305.96,196.28 306.13,194.91 306.30,195.82 306.47,194.02 306.64,194.40 306.81,193.62 306.98,194.34 307.15,193.82 307.32,195.16 307.49,194.57 307.66,193.61 307.83,193.99 308.00,192.89 308.17,191.68 308.34,189.74 308.51,190.79 308.68,188.30 308.85,189.27 309.02,187.80 309.20,188.81 309.37,189.17 309.54,189.77 309.71,192.30 309.88,190.07 310.05,192.74 310.22,191.14 310.39,189.64 310.56,190.91 310.73,190.18 310.90,189.89 311.07,187.58 311.24,188.75 311.41,188.94 311.58,190.13 311.75,191.10 311.92,192.21 312.09,194.48 312.26,194.42 312.44,193.50 312.61,194.67 312.78,192.24 312.95,190.82 313.12,187.72 313.29,188.15 313.46,185.94 313.63,185.72 313.80,186.48 313.97,187.97 314.14,188.14 314.31,188.09 314.48,191.65 314.65,192.37 314.82,192.92 314.99,191.03 315.16,189.06 315.33,186.62 315.50,185.42 315.67,184.66 315.85,184.39 316.02,181.71 316.19,183.70 316.36,182.49 316.53,185.42 316.70,185.02 316.87,187.62 317.04,188.43 317.21,188.43 317.38,187.85 317.55,188.09 317.72,185.70 317.89,183.87 318.06,185.72 318.23,186.20 318.40,182.06 318.57,184.62 318.74,184.21 318.91,185.74 319.08,185.92 319.25,188.28 319.43,187.85 319.60,188.93 319.77,187.38 319.94,188.14 320.11,186.30 320.28,185.63 320.45,185.11 320.62,183.16 320.79,183.59 320.96,182.62 321.13,184.19 321.30,184.56 321.47,184.79 321.64,185.34 321.81,185.32 321.98,186.71 322.15,185.70 322.32,184.72 322.49,184.30 322.67,183.26 322.84,183.06 323.01,182.24 323.18,180.30 323.35,183.72 323.52,182.40 323.69,182.68 323.86,183.98 324.03,182.42 324.20,184.33 324.37,185.41 324.54,183.76 324.71,182.88 324.88,181.28 325.05,180.10 325.22,179.12 325.39,178.03 325.56,175.71 325.73,177.55 325.90,178.22 326.07,178.10 326.25,178.80 326.42,180.05 326.59,181.61 326.76,182.20 326.93,179.54 327.10,178.77 327.27,177.73 327.44,177.65 327.61,176.34 327.78,175.90 327.95,175.84 328.12,175.42 328.29,176.04 328.46,176.46 328.63,175.97 328.80,176.95 328.97,177.35 329.14,177.57 329.31,178.81 329.49,177.50 329.66,174.22 329.83,175.32 330.00,175.45 330.17,175.04 330.34,173.85 330.51,175.31 330.68,176.29 330.85,177.26 331.02,179.25 331.19,179.70 331.36,180.30 331.53,181.57 331.70,179.95 331.87,177.14 332.04,175.74 332.21,174.86 332.38,173.21 332.55,168.22 332.72,170.23 332.89,169.02 333.07,171.67 333.24,171.23 333.41,174.43 333.58,175.28 333.75,176.97 333.92,178.62 334.09,176.97 334.26,176.14 334.43,173.17 334.60,171.92 334.77,186.10 334.94,167.36 335.11,167.15 335.28,168.57 335.45,169.71 335.62,170.48 335.79,172.88 335.96,174.57 336.13,175.96 336.31,177.20 336.48,174.99 336.65,175.77 336.82,174.43 336.99,173.29 337.16,171.88 337.33,171.48 337.50,169.84 337.67,171.00 337.84,171.14 338.01,171.80 338.18,173.05 338.35,172.72 338.52,173.94 338.69,175.05 338.86,173.07 339.03,170.18 339.20,170.49 339.37,169.05 339.54,169.14 339.71,165.51 339.89,165.87 340.06,168.68 340.23,166.04 340.40,168.61 340.57,169.06 340.74,168.90 340.91,171.16 341.08,171.16 341.25,169.51 341.42,171.24 341.59,170.52 341.76,172.54 341.93,171.54 342.10,170.49 342.27,171.39 342.44,173.23 342.61,170.85 342.78,171.47 342.95,172.63 343.12,173.14 343.30,173.62 343.47,172.55 343.64,173.55 343.81,172.04 343.98,171.98 344.15,173.04 344.32,171.23 344.49,171.97 344.66,170.77 344.83,171.80 345.00,172.39 345.17,173.41 345.34,174.09 345.51,173.41 345.68,176.09 345.85,175.78 346.02,175.23 346.19,174.41 346.36,172.29 346.53,171.79 346.71,171.07 346.88,170.39 347.05,170.76 347.22,171.35 347.39,173.17 347.56,172.20 347.73,172.51 347.90,171.42 348.07,171.19 348.24,172.37 348.41,170.77 348.58,168.80 348.75,168.12 348.92,167.37 349.09,165.69 349.26,165.09 349.43,163.51 349.60,164.42 349.77,166.22 349.94,166.13 350.12,167.39 350.29,169.69 350.46,170.35 350.63,169.31 350.80,170.36 350.97,171.44 351.14,170.67 351.31,171.49 351.48,169.27 351.65,171.13 351.82,201.00 351.99,172.47 352.16,171.74 352.33,174.98 352.50,174.10 352.67,175.75 352.84,176.83 353.01,176.95 353.18,174.51 353.36,175.37 353.53,173.19 353.70,174.65 353.87,171.17 354.04,170.48 354.21,168.89 354.38,171.29 354.55,171.72 354.72,171.72 354.89,172.94 355.06,172.11 355.23,172.89 355.40,175.70 355.57,172.59 355.74,171.85 355.91,169.54 356.08,169.33 356.25,168.81 356.42,167.15 356.59,164.67 356.76,167.29 356.94,167.35 357.11,165.59 357.28,167.70 357.45,169.20 357.62,169.89 357.79,171.35 357.96,171.50 358.13,169.83 358.30,169.17 358.47,169.79 358.64,169.35 358.81,167.03 358.98,168.07 359.15,166.01 359.32,169.81 359.49,169.76 359.66,169.43 359.83,170.46 360.00,171.75 360.18,173.53 360.35,172.12 360.52,170.62 360.69,169.01 360.86,168.42 361.03,166.28 361.20,165.97 361.37,164.57 361.54,165.85 361.71,167.40 361.88,167.58 362.05,167.16 362.22,170.35 362.39,170.00 362.56,171.01 362.73,168.86 362.90,168.10 363.07,166.91 363.24,167.26 363.41,164.20 363.58,165.52 363.76,164.15 363.93,165.73 364.10,165.46 364.27,165.44 364.44,168.59 364.61,168.35 364.78,169.99 364.95,171.09 365.12,168.95 365.29,170.02 365.46,170.28 365.63,170.96 365.80,170.98 365.97,170.87 366.14,169.72 366.31,171.83 366.48,171.40 366.65,172.04 366.82,172.39 367.00,172.55 367.17,174.25 367.34,175.39 367.51,174.72 367.68,175.71 367.85,173.39 368.02,172.77 368.19,196.00 368.36,170.86 368.53,170.43 368.70,172.20 368.87,172.99 369.04,174.85 369.21,175.07 369.38,178.31 369.55,179.48 369.72,178.54 369.89,177.19 370.06,176.91 370.23,176.62 370.40,174.68 370.58,174.58 370.75,174.08 370.92,173.26 371.09,173.71 371.26,171.77 371.43,171.63 371.60,174.15 371.77,173.36 371.94,173.69 372.11,173.74 372.28,172.94 372.45,172.79 372.62,169.85 372.79,168.74 372.96,169.64 373.13,168.12 373.30,164.88 373.47,165.52 373.64,168.24 373.81,169.44 373.99,171.29 374.16,170.84 374.33,171.61 374.50,171.60 374.67,171.28 374.84,170.26 375.01,171.07 375.18,169.77 375.35,169.79 375.52,168.53 375.69,166.83 375.86,167.97 376.03,169.27 376.20,168.98 376.37,167.46 376.54,170.25 376.71,169.26 376.88,171.20 377.05,169.34 377.23,168.63 377.40,169.87 377.57,167.87 377.74,169.70 377.91,167.98 378.08,168.71 378.25,167.34 378.42,169.05 378.59,168.99 378.76,171.29 378.93,169.63 379.10,170.58 379.27,170.45 379.44,170.60 379.61,170.04 379.78,170.23 379.95,169.15 380.12,166.49 380.29,168.80 380.46,166.58 380.63,168.25 380.81,167.74 380.98,169.50 381.15,169.52 381.32,170.14 381.49,171.09 381.66,171.22 381.83,171.31 382.00,170.14 382.17,169.31 382.34,168.73 382.51,167.44 382.68,165.84 382.85,165.28 383.02,165.51 383.19,167.19 383.36,167.26 383.53,166.75 383.70,168.69 383.87,169.47 384.04,170.89 384.22,169.98 384.39,169.01 384.56,168.36 384.73,165.95 384.90,165.46 385.07,165.44 385.24,164.36 385.41,166.20 385.58,166.15 385.75,169.61 385.92,168.32 386.09,168.84 386.26,171.13 386.43,171.52 386.60,171.54 386.77,169.14 386.94,166.12 387.11,165.69 387.28,164.50 387.45,161.18 387.63,159.44 387.80,161.01 387.97,163.06 388.14,164.26 388.31,167.15 388.48,168.32 388.65,171.28 388.82,174.04 388.99,172.13 389.16,170.13 389.33,169.29 389.50,167.29 389.67,164.64 389.84,163.94 390.01,162.57 390.18,162.89 390.35,164.71 390.52,164.53 390.69,166.71 390.87,167.98 391.04,168.70 391.21,169.38 391.38,169.20 391.55,167.53 391.72,167.09 391.89,167.40 392.06,167.27 392.23,166.61 392.40,165.31 392.57,166.12 392.74,165.55 392.91,166.66 393.08,166.27 393.25,166.13 393.42,167.83 393.59,167.63 393.76,167.34 393.93,166.37 394.10,168.05 394.27,166.70 394.45,165.18 394.62,166.06 394.79,165.13 394.96,165.84 395.13,167.22 395.30,170.15 395.47,170.44 395.64,172.49 395.81,172.99 395.98,175.38 396.15,174.34 396.32,173.35 396.49,172.26 396.66,171.78 396.83,170.55 397.00,168.17 397.17,168.83 397.34,167.48 397.51,167.90 397.69,168.98 397.86,170.25 398.03,170.47 398.20,169.64 398.37,170.72 398.54,170.79 398.71,168.98 398.88,167.78 399.05,165.00 399.22,165.21 399.39,164.24 399.56,162.17 399.73,162.31 399.90,164.99 400.07,166.34 400.24,165.31 400.41,167.03 400.58,169.36 400.75,170.42 400.92,168.27 401.09,165.35 401.27,166.68 401.44,166.52 401.61,167.13 401.78,164.96 401.95,163.91 402.12,163.96 402.29,163.88 402.46,165.43 402.63,166.25" fill="none" stroke="#1f77b4" stroke-width="1.25" stroke-linejoin="round"/>
<rect x="295.5" y="143.2" width="112.00" height="69.80" fill="none" stroke="#444" stroke-width="0.6"/>
<line x1="300.50" y1="213.0" x2="300.50" y2="215.00" stroke="#444" stroke-width="0.6"/>
<text x="300.50" y="220.70" font-size="5.88" text-anchor="middle" fill="#3a3a3a" textLength="3.34" lengthAdjust="spacingAndGlyphs" >0</text>
<line x1="317.55" y1="213.0" x2="317.55" y2="215.00" stroke="#444" stroke-width="0.6"/>
<text x="317.55" y="220.70" font-size="5.88" text-anchor="middle" fill="#3a3a3a" textLength="10.02" lengthAdjust="spacingAndGlyphs" >100</text>
<line x1="334.60" y1="213.0" x2="334.60" y2="215.00" stroke="#444" stroke-width="0.6"/>
<text x="334.60" y="220.70" font-size="5.88" text-anchor="middle" fill="#3a3a3a" textLength="10.02" lengthAdjust="spacingAndGlyphs" >200</text>
<line x1="351.65" y1="213.0" x2="351.65" y2="215.00" stroke="#444" stroke-width="0.6"/>
<text x="351.65" y="220.70" font-size="5.88" text-anchor="middle" fill="#3a3a3a" textLength="10.02" lengthAdjust="spacingAndGlyphs" >300</text>
<line x1="368.70" y1="213.0" x2="368.70" y2="215.00" stroke="#444" stroke-width="0.6"/>
<text x="368.70" y="220.70" font-size="5.88" text-anchor="middle" fill="#3a3a3a" textLength="10.02" lengthAdjust="spacingAndGlyphs" >400</text>
<line x1="385.75" y1="213.0" x2="385.75" y2="215.00" stroke="#444" stroke-width="0.6"/>
<text x="385.75" y="220.70" font-size="5.88" text-anchor="middle" fill="#3a3a3a" textLength="10.02" lengthAdjust="spacingAndGlyphs" >500</text>
<line x1="402.80" y1="213.0" x2="402.80" y2="215.00" stroke="#444" stroke-width="0.6"/>
<text x="402.80" y="220.70" font-size="5.88" text-anchor="middle" fill="#3a3a3a" textLength="10.02" lengthAdjust="spacingAndGlyphs" >600</text>
<line x1="293.50" y1="213.00" x2="295.5" y2="213.00" stroke="#444" stroke-width="0.6"/>
<text x="292.50" y="215.25" font-size="5.88" text-anchor="end" fill="#3a3a3a" textLength="8.35" lengthAdjust="spacingAndGlyphs" >0.0</text>
<line x1="293.50" y1="199.04" x2="295.5" y2="199.04" stroke="#444" stroke-width="0.6"/>
<text x="292.50" y="201.29" font-size="5.88" text-anchor="end" fill="#3a3a3a" textLength="8.35" lengthAdjust="spacingAndGlyphs" >0.2</text>
<line x1="293.50" y1="185.08" x2="295.5" y2="185.08" stroke="#444" stroke-width="0.6"/>
<text x="292.50" y="187.33" font-size="5.88" text-anchor="end" fill="#3a3a3a" textLength="8.35" lengthAdjust="spacingAndGlyphs" >0.4</text>
<line x1="293.50" y1="171.12" x2="295.5" y2="171.12" stroke="#444" stroke-width="0.6"/>
<text x="292.50" y="173.37" font-size="5.88" text-anchor="end" fill="#3a3a3a" textLength="8.35" lengthAdjust="spacingAndGlyphs" >0.6</text>
<line x1="293.50" y1="157.16" x2="295.5" y2="157.16" stroke="#444" stroke-width="0.6"/>
<text x="292.50" y="159.41" font-size="5.88" text-anchor="end" fill="#3a3a3a" textLength="8.35" lengthAdjust="spacingAndGlyphs" >0.8</text>
<line x1="293.50" y1="143.20" x2="295.5" y2="143.20" stroke="#444" stroke-width="0.6"/>
<text x="292.50" y="145.45" font-size="5.88" text-anchor="end" fill="#3a3a3a" textLength="8.35" lengthAdjust="spacingAndGlyphs" >1.0</text>
<text x="351.50" y="140.90" font-size="7.24" text-anchor="middle" fill="#3a3a3a" textLength="30.56" lengthAdjust="spacingAndGlyphs" class="ti">mAP@0.5</text>
<text x="351.50" y="226.90" font-size="5.13" text-anchor="middle" fill="#3a3a3a" textLength="13.25" lengthAdjust="spacingAndGlyphs" >epoch</text>
<text x="0" y="0" font-size="5.13" text-anchor="middle" fill="#444" textLength="11.88" lengthAdjust="spacingAndGlyphs" transform="translate(280.70,177.80) rotate(-90)">value</text>
<line x1="437.90" y1="143.2" x2="437.90" y2="213.0" stroke="#bbb" stroke-width="0.5"/>
<line x1="454.95" y1="143.2" x2="454.95" y2="213.0" stroke="#bbb" stroke-width="0.5"/>
<line x1="472.00" y1="143.2" x2="472.00" y2="213.0" stroke="#bbb" stroke-width="0.5"/>
<line x1="489.05" y1="143.2" x2="489.05" y2="213.0" stroke="#bbb" stroke-width="0.5"/>
<line x1="506.10" y1="143.2" x2="506.10" y2="213.0" stroke="#bbb" stroke-width="0.5"/>
<line x1="523.15" y1="143.2" x2="523.15" y2="213.0" stroke="#bbb" stroke-width="0.5"/>
<line x1="540.20" y1="143.2" x2="540.20" y2="213.0" stroke="#bbb" stroke-width="0.5"/>
<line x1="433.1" y1="213.00" x2="544.85" y2="213.00" stroke="#bbb" stroke-width="0.5"/>
<line x1="433.1" y1="199.04" x2="544.85" y2="199.04" stroke="#bbb" stroke-width="0.5"/>
<line x1="433.1" y1="185.08" x2="544.85" y2="185.08" stroke="#bbb" stroke-width="0.5"/>
<line x1="433.1" y1="171.12" x2="544.85" y2="171.12" stroke="#bbb" stroke-width="0.5"/>
<line x1="433.1" y1="157.16" x2="544.85" y2="157.16" stroke="#bbb" stroke-width="0.5"/>
<line x1="433.1" y1="143.20" x2="544.85" y2="143.20" stroke="#bbb" stroke-width="0.5"/>
<polyline points="437.90,213.00 438.07,211.57 438.24,209.73 438.41,208.07 438.58,206.68 438.75,203.99 438.92,202.64 439.09,201.75 439.26,199.43 439.43,199.42 439.60,201.03 439.78,200.59 439.95,199.73 440.12,200.96 440.29,201.91 440.46,199.43 440.63,198.91 440.80,198.03 440.97,196.63 441.14,196.68 441.31,194.38 441.48,193.01 441.65,194.26 441.82,194.70 441.99,195.29 442.16,196.70 442.33,197.30 442.50,200.28 442.67,201.95 442.84,198.84 443.01,195.82 443.19,196.73 443.36,196.50 443.53,194.38 443.70,194.39 443.87,193.28 444.04,193.05 444.21,194.14 444.38,194.15 444.55,195.21 444.72,195.26 444.89,196.34 445.06,198.57 445.23,196.57 445.40,197.16 445.57,195.99 445.74,193.95 445.91,194.54 446.08,193.69 446.25,192.52 446.42,194.05 446.60,196.35 446.77,197.26 446.94,196.84 447.11,197.50 447.28,198.96 447.45,200.18 447.62,199.18 447.79,195.84 447.96,193.76 448.13,192.68 448.30,189.32 448.47,189.03 448.64,187.68 448.81,187.25 448.98,190.98 449.15,191.20 449.32,192.98 449.49,194.33 449.66,195.86 449.83,197.37 450.01,195.93 450.18,193.82 450.35,195.17 450.52,193.38 450.69,192.94 450.86,191.72 451.03,191.54 451.20,191.19 451.37,191.44 451.54,194.74 451.71,194.42 451.88,194.56 452.05,195.49 452.22,196.32 452.39,192.89 452.56,193.62 452.73,193.63 452.90,193.45 453.07,191.85 453.25,191.95 453.42,190.41 453.59,191.62 453.76,190.83 453.93,192.67 454.10,194.93 454.27,193.22 454.44,195.39 454.61,194.44 454.78,193.83 454.95,195.81 455.12,192.38 455.29,192.20 455.46,191.13 455.63,188.43 455.80,189.71 455.97,191.12 456.14,190.19 456.31,190.91 456.48,191.97 456.65,193.76 456.83,193.29 457.00,195.39 457.17,194.43 457.34,191.53 457.51,191.06 457.68,191.28 457.85,189.76 458.02,190.33 458.19,189.82 458.36,188.63 458.53,190.30 458.70,190.33 458.87,190.11 459.04,191.25 459.21,190.37 459.38,191.29 459.55,190.04 459.72,189.41 459.89,191.04 460.06,190.71 460.24,189.07 460.41,189.42 460.58,187.81 460.75,187.81 460.92,189.09 461.09,190.12 461.26,189.15 461.43,189.53 461.60,189.65 461.77,189.18 461.94,188.06 462.11,189.39 462.28,187.88 462.45,190.04 462.62,188.54 462.79,188.61 462.96,188.48 463.13,187.31 463.30,187.64 463.47,190.11 463.65,189.74 463.82,189.81 463.99,190.76 464.16,188.75 464.33,190.65 464.50,189.26 464.67,188.78 464.84,188.33 465.01,188.76 465.18,186.96 465.35,185.64 465.52,185.14 465.69,188.14 465.86,184.48 466.03,186.01 466.20,186.14 466.37,185.69 466.54,186.03 466.71,185.96 466.88,184.55 467.06,184.80 467.23,184.87 467.40,182.85 467.57,183.65 467.74,183.37 467.91,183.19 468.08,183.27 468.25,183.36 468.42,183.14 468.59,182.99 468.76,184.25 468.93,183.86 469.10,183.33 469.27,183.87 469.44,182.88 469.61,180.89 469.78,181.99 469.95,179.85 470.12,180.11 470.29,178.11 470.47,181.43 470.64,180.31 470.81,180.22 470.98,180.55 471.15,179.88 471.32,181.60 471.49,181.42 471.66,182.67 471.83,180.85 472.00,179.84 472.17,191.00 472.34,179.26 472.51,177.79 472.68,178.17 472.85,177.99 473.02,179.87 473.19,178.75 473.36,181.80 473.53,180.26 473.70,181.89 473.88,182.21 474.05,180.14 474.22,180.22 474.39,181.39 474.56,178.89 474.73,179.56 474.90,178.96 475.07,176.74 475.24,178.56 475.41,177.34 475.58,178.65 475.75,178.79 475.92,179.60 476.09,178.69 476.26,178.06 476.43,177.44 476.60,178.29 476.77,175.88 476.94,176.42 477.11,173.48 477.29,172.72 477.46,175.19 477.63,175.09 477.80,177.09 477.97,177.97 478.14,180.96 478.31,181.70 478.48,183.30 478.65,181.95 478.82,181.06 478.99,180.92 479.16,182.18 479.33,179.07 479.50,179.05 479.67,178.15 479.84,180.18 480.01,179.50 480.18,180.61 480.35,181.25 480.52,182.84 480.70,181.52 480.87,179.07 481.04,178.21 481.21,178.72 481.38,179.09 481.55,175.93 481.72,175.26 481.89,173.23 482.06,172.75 482.23,174.46 482.40,175.08 482.57,176.22 482.74,177.77 482.91,177.77 483.08,178.25 483.25,177.52 483.42,177.95 483.59,179.00 483.76,175.97 483.93,175.62 484.11,174.59 484.28,174.53 484.45,174.28 484.62,173.79 484.79,174.31 484.96,176.19 485.13,175.03 485.30,177.24 485.47,176.96 485.64,178.09 485.81,178.72 485.98,178.41 486.15,178.44 486.32,176.85 486.49,177.26 486.66,176.51 486.83,176.14 487.00,177.33 487.17,178.54 487.34,178.97 487.52,179.49 487.69,179.29 487.86,180.79 488.03,181.74 488.20,182.56 488.37,180.26 488.54,181.07 488.71,179.93 488.88,182.03 489.05,179.81 489.22,180.29 489.39,203.50 489.56,179.53 489.73,180.26 489.90,181.71 490.07,181.57 490.24,183.42 490.41,183.25 490.58,182.34 490.75,179.96 490.93,181.65 491.10,177.85 491.27,177.46 491.44,175.60 491.61,175.23 491.78,177.24 491.95,177.91 492.12,176.89 492.29,179.69 492.46,181.40 492.63,182.80 492.80,182.62 492.97,181.15 493.14,178.71 493.31,180.73 493.48,177.14 493.65,175.61 493.82,173.94 493.99,173.15 494.16,174.61 494.34,175.63 494.51,175.34 494.68,175.69 494.85,178.32 495.02,177.91 495.19,180.99 495.36,179.32 495.53,177.86 495.70,178.86 495.87,175.62 496.04,176.59 496.21,176.11 496.38,175.71 496.55,174.83 496.72,176.04 496.89,176.65 497.06,177.17 497.23,176.59 497.40,175.70 497.57,177.60 497.75,175.63 497.92,176.27 498.09,175.81 498.26,177.81 498.43,174.92 498.60,173.45 498.77,173.81 498.94,175.34 499.11,174.85 499.28,177.26 499.45,176.40 499.62,177.95 499.79,178.33 499.96,177.23 500.13,177.26 500.30,175.41 500.47,175.34 500.64,173.87 500.81,173.54 500.98,171.69 501.16,171.26 501.33,172.43 501.50,174.50 501.67,178.00 501.84,178.87 502.01,180.11 502.18,182.16 502.35,185.12 502.52,184.86 502.69,182.33 502.86,181.44 503.03,179.45 503.20,177.79 503.37,176.99 503.54,175.12 503.71,177.74 503.88,177.10 504.05,178.33 504.22,178.01 504.39,178.97 504.57,178.71 504.74,180.37 504.91,178.92 505.08,178.64 505.25,178.71 505.42,176.82 505.59,176.30 505.76,176.28 505.93,177.86 506.10,178.13 506.27,199.80 506.44,180.04 506.61,179.60 506.78,181.36 506.95,181.55 507.12,181.26 507.29,181.51 507.46,180.78 507.63,180.49 507.80,178.88 507.98,175.55 508.15,174.42 508.32,174.34 508.49,175.13 508.66,175.67 508.83,176.76 509.00,178.79 509.17,179.72 509.34,179.39 509.51,180.42 509.68,179.78 509.85,178.12 510.02,177.50 510.19,178.36 510.36,177.14 510.53,175.10 510.70,174.46 510.87,176.24 511.04,175.07 511.21,175.46 511.39,177.56 511.56,177.79 511.73,177.01 511.90,179.14 512.07,177.31 512.24,176.74 512.41,177.66 512.58,175.03 512.75,173.81 512.92,172.39 513.09,173.20 513.26,173.18 513.43,174.80 513.60,176.45 513.77,176.54 513.94,177.67 514.11,178.69 514.28,176.99 514.45,177.63 514.62,176.31 514.80,177.61 514.97,176.40 515.14,176.56 515.31,175.81 515.48,174.74 515.65,175.49 515.82,177.02 515.99,177.91 516.16,177.58 516.33,177.18 516.50,177.34 516.67,180.58 516.84,179.34 517.01,176.87 517.18,176.37 517.35,176.21 517.52,174.08 517.69,173.71 517.86,171.92 518.03,171.85 518.21,172.39 518.38,175.39 518.55,176.02 518.72,178.02 518.89,178.13 519.06,179.81 519.23,177.76 519.40,175.46 519.57,176.02 519.74,173.90 519.91,173.84 520.08,173.14 520.25,174.00 520.42,172.46 520.59,174.30 520.76,172.22 520.93,175.43 521.10,172.49 521.27,174.00 521.44,176.38 521.62,175.67 521.79,174.18 521.96,173.48 522.13,173.49 522.30,171.28 522.47,172.03 522.64,172.60 522.81,172.95 522.98,170.43 523.15,173.23 523.32,172.67 523.49,172.56 523.66,172.93 523.83,173.41 524.00,172.60 524.17,174.56 524.34,171.30 524.51,172.44 524.68,171.73 524.86,173.17 525.03,171.37 525.20,172.26 525.37,171.59 525.54,172.88 525.71,174.23 525.88,173.13 526.05,175.09 526.22,175.04 526.39,174.94 526.56,174.60 526.73,174.44 526.90,171.23 527.07,173.90 527.24,171.31 527.41,170.56 527.58,172.48 527.75,173.78 527.92,175.48 528.09,174.50 528.26,177.42 528.44,176.36 528.61,178.23 528.78,175.84 528.95,176.26 529.12,175.12 529.29,175.20 529.46,174.28 529.63,173.39 529.80,172.12 529.97,173.14 530.14,173.51 530.31,173.20 530.48,173.47 530.65,175.06 530.82,175.47 530.99,176.67 531.16,176.16 531.33,175.43 531.50,172.53 531.67,172.35 531.85,171.00 532.02,171.02 532.19,169.26 532.36,170.96 532.53,171.60 532.70,173.16 532.87,173.98 533.04,172.33 533.21,173.90 533.38,174.23 533.55,174.28 533.72,174.74 533.89,174.00 534.06,172.93 534.23,173.59 534.40,171.96 534.57,171.62 534.74,171.94 534.91,173.86 535.08,174.22 535.26,174.53 535.43,175.12 535.60,176.26 535.77,174.93 535.94,175.83 536.11,175.90 536.28,174.34 536.45,172.36 536.62,171.72 536.79,172.85 536.96,173.05 537.13,171.88 537.30,173.18 537.47,174.20 537.64,175.50 537.81,174.06 537.98,176.19 538.15,176.01 538.32,175.34 538.50,175.62 538.67,175.84 538.84,173.76 539.01,172.55 539.18,173.46 539.35,171.94 539.52,172.36 539.69,172.79 539.86,173.40 540.03,175.01" fill="none" stroke="#1f77b4" stroke-width="1.25" stroke-linejoin="round"/>
<rect x="433.1" y="143.2" width="111.75" height="69.80" fill="none" stroke="#444" stroke-width="0.6"/>
<line x1="437.90" y1="213.0" x2="437.90" y2="215.00" stroke="#444" stroke-width="0.6"/>
<text x="437.90" y="220.70" font-size="5.88" text-anchor="middle" fill="#3a3a3a" textLength="3.34" lengthAdjust="spacingAndGlyphs" >0</text>
<line x1="454.95" y1="213.0" x2="454.95" y2="215.00" stroke="#444" stroke-width="0.6"/>
<text x="454.95" y="220.70" font-size="5.88" text-anchor="middle" fill="#3a3a3a" textLength="10.02" lengthAdjust="spacingAndGlyphs" >100</text>
<line x1="472.00" y1="213.0" x2="472.00" y2="215.00" stroke="#444" stroke-width="0.6"/>
<text x="472.00" y="220.70" font-size="5.88" text-anchor="middle" fill="#3a3a3a" textLength="10.02" lengthAdjust="spacingAndGlyphs" >200</text>
<line x1="489.05" y1="213.0" x2="489.05" y2="215.00" stroke="#444" stroke-width="0.6"/>
<text x="489.05" y="220.70" font-size="5.88" text-anchor="middle" fill="#3a3a3a" textLength="10.02" lengthAdjust="spacingAndGlyphs" >300</text>
<line x1="506.10" y1="213.0" x2="506.10" y2="215.00" stroke="#444" stroke-width="0.6"/>
<text x="506.10" y="220.70" font-size="5.88" text-anchor="middle" fill="#3a3a3a" textLength="10.02" lengthAdjust="spacingAndGlyphs" >400</text>
<line x1="523.15" y1="213.0" x2="523.15" y2="215.00" stroke="#444" stroke-width="0.6"/>
<text x="523.15" y="220.70" font-size="5.88" text-anchor="middle" fill="#3a3a3a" textLength="10.02" lengthAdjust="spacingAndGlyphs" >500</text>
<line x1="540.20" y1="213.0" x2="540.20" y2="215.00" stroke="#444" stroke-width="0.6"/>
<text x="540.20" y="220.70" font-size="5.88" text-anchor="middle" fill="#3a3a3a" textLength="10.02" lengthAdjust="spacingAndGlyphs" >600</text>
<line x1="431.10" y1="213.00" x2="433.1" y2="213.00" stroke="#444" stroke-width="0.6"/>
<text x="430.10" y="215.25" font-size="5.88" text-anchor="end" fill="#3a3a3a" textLength="8.35" lengthAdjust="spacingAndGlyphs" >0.0</text>
<line x1="431.10" y1="199.04" x2="433.1" y2="199.04" stroke="#444" stroke-width="0.6"/>
<text x="430.10" y="201.29" font-size="5.88" text-anchor="end" fill="#3a3a3a" textLength="8.35" lengthAdjust="spacingAndGlyphs" >0.2</text>
<line x1="431.10" y1="185.08" x2="433.1" y2="185.08" stroke="#444" stroke-width="0.6"/>
<text x="430.10" y="187.33" font-size="5.88" text-anchor="end" fill="#3a3a3a" textLength="8.35" lengthAdjust="spacingAndGlyphs" >0.4</text>
<line x1="431.10" y1="171.12" x2="433.1" y2="171.12" stroke="#444" stroke-width="0.6"/>
<text x="430.10" y="173.37" font-size="5.88" text-anchor="end" fill="#3a3a3a" textLength="8.35" lengthAdjust="spacingAndGlyphs" >0.6</text>
<line x1="431.10" y1="157.16" x2="433.1" y2="157.16" stroke="#444" stroke-width="0.6"/>
<text x="430.10" y="159.41" font-size="5.88" text-anchor="end" fill="#3a3a3a" textLength="8.35" lengthAdjust="spacingAndGlyphs" >0.8</text>
<line x1="431.10" y1="143.20" x2="433.1" y2="143.20" stroke="#444" stroke-width="0.6"/>
<text x="430.10" y="145.45" font-size="5.88" text-anchor="end" fill="#3a3a3a" textLength="8.35" lengthAdjust="spacingAndGlyphs" >1.0</text>
<text x="488.98" y="140.90" font-size="7.24" text-anchor="middle" fill="#3a3a3a" textLength="46.71" lengthAdjust="spacingAndGlyphs" class="ti">mAP@0.5:0.95</text>
<text x="488.98" y="226.90" font-size="5.13" text-anchor="middle" fill="#3a3a3a" textLength="13.25" lengthAdjust="spacingAndGlyphs" >epoch</text>
<text x="0" y="0" font-size="5.13" text-anchor="middle" fill="#444" textLength="11.88" lengthAdjust="spacingAndGlyphs" transform="translate(418.30,177.80) rotate(-90)">value</text>
<text x="274.7" y="122.6" font-size="12" font-weight="bold" font-family="'Liberation Serif', serif" text-anchor="middle" fill="#111">(b)</text>
<text x="274.5" y="250.8" font-size="12" font-weight="bold" font-family="'Liberation Serif', serif" text-anchor="middle" fill="#111">(c)</text>
</svg></body></html>
